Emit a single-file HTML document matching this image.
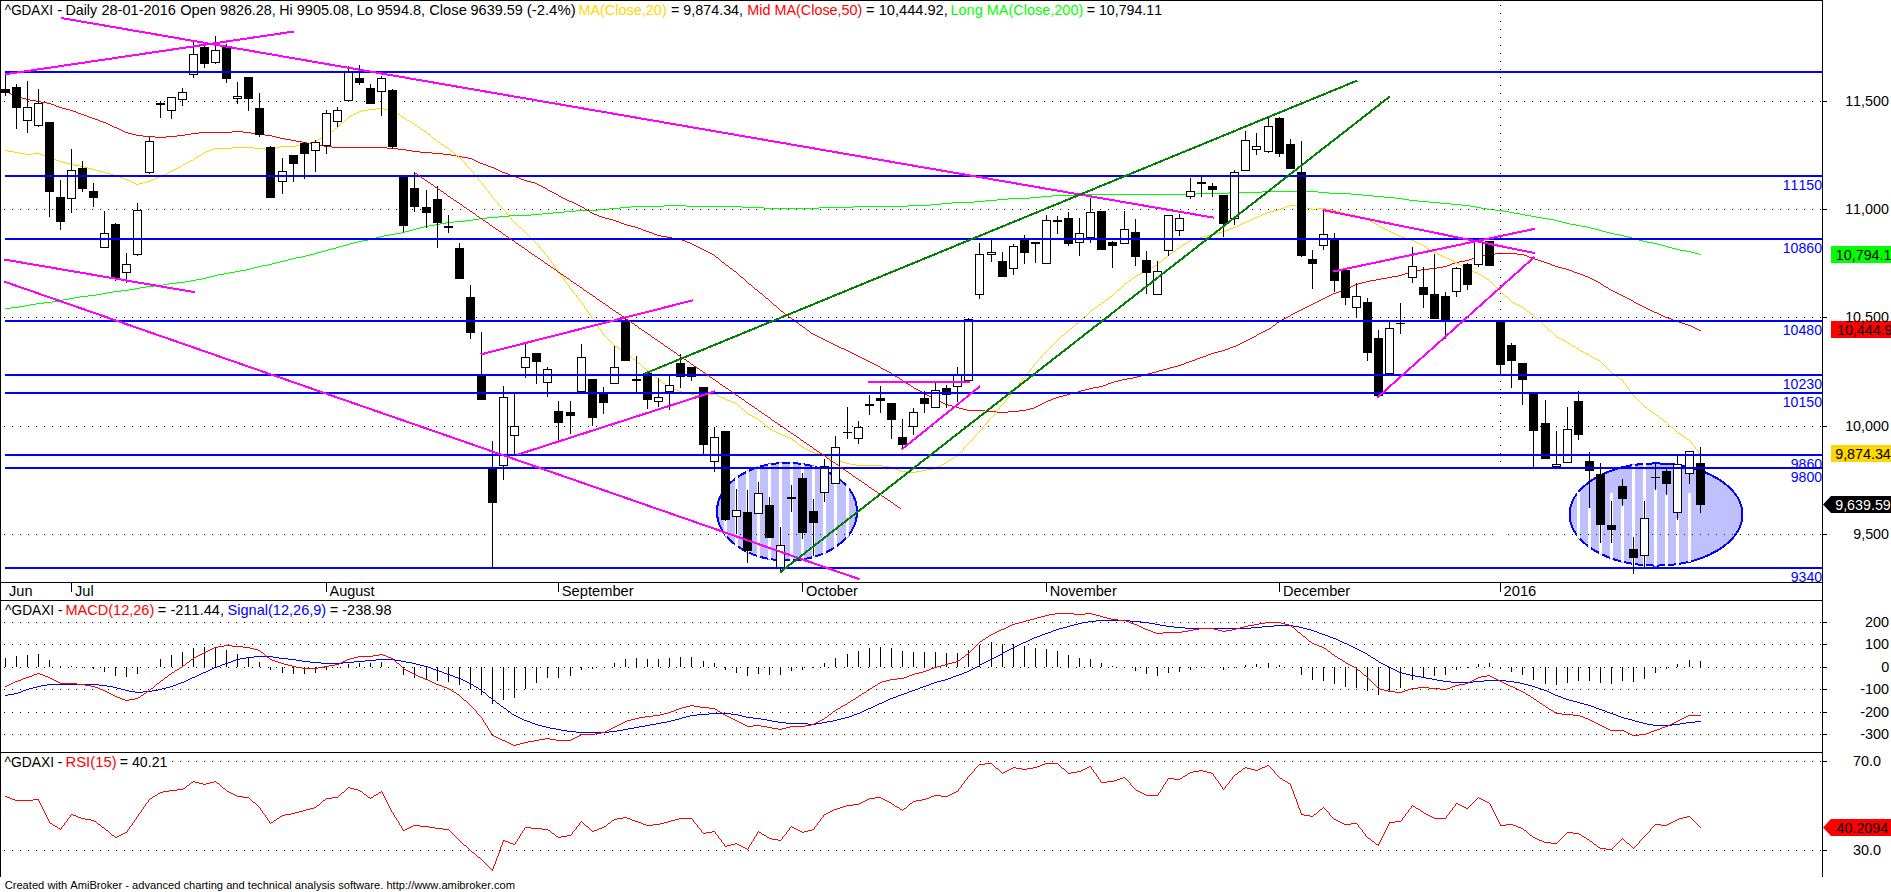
<!DOCTYPE html><html><head><meta charset="utf-8"><title>^GDAXI chart</title><style>html,body{margin:0;padding:0;background:#fff;}svg{display:block;}text{font-kerning:none;}</style></head><body><svg width="1891" height="892" viewBox="0 0 1891 892">
<defs>
<pattern id="hd" x="4" y="0" width="8" height="1" patternUnits="userSpaceOnUse"><rect width="1" height="1" fill="#000"/></pattern>
<pattern id="vd" x="0" y="5" width="1" height="8" patternUnits="userSpaceOnUse"><rect width="1" height="1" fill="#000"/></pattern>
<clipPath id="main"><rect x="1" y="1" width="1821" height="581"/></clipPath>
<clipPath id="mp"><rect x="1" y="601" width="1821" height="150"/></clipPath>
<clipPath id="rp"><rect x="1" y="753" width="1821" height="123"/></clipPath>
<clipPath id="e1"><ellipse cx="787" cy="511.7" rx="71" ry="49.8"/></clipPath>
<clipPath id="e2"><ellipse cx="1656" cy="514.5" rx="87.4" ry="52.1"/></clipPath>
</defs>
<rect width="1891" height="892" fill="#fff"/>
<g clip-path="url(#main)" shape-rendering="crispEdges">
<path d="M5 308h6v1h-6zM11 307h5v1h-5zM16 307h3v1h-3zM19 306h6v1h-6zM25 305h2v1h-2zM27 305h3v1h-3zM30 304h6v1h-6zM36 303h2v1h-2zM38 303h6v1h-6zM44 302h5v1h-5zM49 302h3v1h-3zM52 301h6v1h-6zM58 300h2v1h-2zM60 300h3v1h-3zM63 299h6v1h-6zM69 298h2v1h-2zM71 298h3v1h-3zM74 297h6v1h-6zM80 296h2v1h-2zM82 296h6v1h-6zM88 295h5v1h-5zM93 295h3v1h-3zM96 294h6v1h-6zM102 293h2v1h-2zM104 293h3v1h-3zM107 292h6v1h-6zM113 291h2v1h-2zM115 291h6v1h-6zM121 290h5v1h-5zM126 290h3v1h-3zM129 289h6v1h-6zM135 288h2v1h-2zM137 288h3v1h-3zM140 287h6v1h-6zM146 286h3v1h-3zM149 286h6v1h-6zM155 285h5v1h-5zM160 285h3v1h-3zM163 284h6v1h-6zM169 283h2v1h-2zM171 283h6v1h-6zM177 282h5v1h-5zM182 282h3v1h-3zM185 281h6v1h-6zM191 280h2v1h-2zM193 280h3v1h-3zM196 279h6v1h-6zM202 278h2v1h-2zM204 278h2v1h-2zM206 277h4v1h-4zM210 276h4v1h-4zM214 275h1v1h-1zM215 275h3v1h-3zM218 274h6v1h-6zM224 273h2v1h-2zM226 273h3v1h-3zM229 272h6v1h-6zM235 271h2v1h-2zM237 271h3v1h-3zM240 270h6v1h-6zM246 269h2v1h-2zM248 269h2v1h-2zM250 268h4v1h-4zM254 267h4v1h-4zM258 266h1v1h-1zM259 266h3v1h-3zM262 265h6v1h-6zM268 264h2v1h-2zM270 264h2v1h-2zM272 263h4v1h-4zM276 262h4v1h-4zM280 261h2v1h-2zM282 261h2v1h-2zM284 260h4v1h-4zM288 259h4v1h-4zM292 258h1v1h-1zM293 258h3v1h-3zM296 257h6v1h-6zM302 256h2v1h-2zM304 256h2v1h-2zM306 255h4v1h-4zM310 254h4v1h-4zM314 253h1v1h-1zM315 253h2v1h-2zM317 252h4v1h-4zM321 251h4v1h-4zM325 250h1v1h-1zM326 250h2v1h-2zM328 249h4v1h-4zM332 248h4v1h-4zM336 247h1v1h-1zM337 247h2v1h-2zM339 246h4v1h-4zM343 245h4v1h-4zM347 244h1v1h-1zM348 244h2v1h-2zM350 243h4v1h-4zM354 242h4v1h-4zM358 241h1v1h-1zM359 241h3v1h-3zM362 240h6v1h-6zM368 239h2v1h-2zM370 239h2v1h-2zM372 238h4v1h-4zM376 237h4v1h-4zM380 236h1v1h-1zM381 236h3v1h-3zM384 235h6v1h-6zM390 234h2v1h-2zM392 234h3v1h-3zM395 233h6v1h-6zM401 232h2v1h-2zM403 232h2v1h-2zM405 231h4v1h-4zM409 230h4v1h-4zM413 229h1v1h-1zM414 229h2v1h-2zM416 228h4v1h-4zM420 227h4v1h-4zM424 226h2v1h-2zM426 226h3v1h-3zM429 225h6v1h-6zM435 224h2v1h-2zM437 224h3v1h-3zM440 223h6v1h-6zM446 222h2v1h-2zM448 222h6v1h-6zM454 221h5v1h-5zM459 221h6v1h-6zM465 220h5v1h-5zM470 220h3v1h-3zM473 219h6v1h-6zM479 218h2v1h-2zM481 218h6v1h-6zM487 217h5v1h-5zM492 217h6v1h-6zM498 216h5v1h-5zM503 216h6v1h-6zM509 215h5v1h-5zM514 215h11v1h-11zM525 215h6v1h-6zM531 214h5v1h-5zM536 214h6v1h-6zM542 213h5v1h-5zM547 213h6v1h-6zM553 212h5v1h-5zM558 212h6v1h-6zM564 211h6v1h-6zM570 211h6v1h-6zM576 210h5v1h-5zM581 210h11v1h-11zM592 210h6v1h-6zM598 209h5v1h-5zM603 209h6v1h-6zM609 208h5v1h-5zM614 208h6v1h-6zM620 207h5v1h-5zM625 207h6v1h-6zM631 206h5v1h-5zM636 206h11v1h-11zM647 206h11v1h-11zM658 206h6v1h-6zM664 205h5v1h-5zM669 205h11v1h-11zM680 205h6v1h-6zM686 206h5v1h-5zM691 206h12v1h-12zM703 206h11v1h-11zM714 206h11v1h-11zM725 206h11v1h-11zM736 206h6v1h-6zM742 207h5v1h-5zM747 207h11v1h-11zM758 207h6v1h-6zM764 208h5v1h-5zM769 208h11v1h-11zM780 208h11v1h-11zM791 208h11v1h-11zM802 208h11v1h-11zM813 208h6v1h-6zM819 207h5v1h-5zM824 207h11v1h-11zM835 207h12v1h-12zM847 207h6v1h-6zM853 206h5v1h-5zM858 206h11v1h-11zM869 206h11v1h-11zM880 206h11v1h-11zM891 206h11v1h-11zM902 206h6v1h-6zM908 205h5v1h-5zM913 205h11v1h-11zM924 205h6v1h-6zM930 204h5v1h-5zM935 204h6v1h-6zM941 203h5v1h-5zM946 203h6v1h-6zM952 202h5v1h-5zM957 202h11v1h-11zM968 202h6v1h-6zM974 201h5v1h-5zM979 201h6v1h-6zM985 200h6v1h-6zM991 200h6v1h-6zM997 199h5v1h-5zM1002 199h6v1h-6zM1008 198h5v1h-5zM1013 198h11v1h-11zM1024 198h6v1h-6zM1030 197h5v1h-5zM1035 197h6v1h-6zM1041 196h5v1h-5zM1046 196h6v1h-6zM1052 195h5v1h-5zM1057 195h11v1h-11zM1068 195h11v1h-11zM1079 195h6v1h-6zM1085 194h5v1h-5zM1090 194h11v1h-11zM1101 194h11v1h-11zM1112 194h12v1h-12zM1124 194h11v1h-11zM1135 194h11v1h-11zM1146 194h11v1h-11zM1157 194h11v1h-11zM1168 194h11v1h-11zM1179 194h11v1h-11zM1190 194h6v1h-6zM1196 193h5v1h-5zM1201 193h11v1h-11zM1212 193h11v1h-11zM1223 193h6v1h-6zM1229 192h5v1h-5zM1234 192h11v1h-11zM1245 192h11v1h-11zM1256 192h6v1h-6zM1262 191h6v1h-6zM1268 191h11v1h-11zM1279 191h11v1h-11zM1290 191h11v1h-11zM1301 191h11v1h-11zM1312 191h6v1h-6zM1318 192h5v1h-5zM1323 192h6v1h-6zM1329 193h5v1h-5zM1334 193h11v1h-11zM1345 193h6v1h-6zM1351 194h5v1h-5zM1356 194h6v1h-6zM1362 195h5v1h-5zM1367 195h6v1h-6zM1373 196h5v1h-5zM1378 196h6v1h-6zM1384 197h5v1h-5zM1389 197h6v1h-6zM1395 198h5v1h-5zM1400 198h3v1h-3zM1403 199h6v1h-6zM1409 200h3v1h-3zM1412 200h6v1h-6zM1418 201h5v1h-5zM1423 201h6v1h-6zM1429 202h5v1h-5zM1434 202h6v1h-6zM1440 203h5v1h-5zM1445 203h6v1h-6zM1451 204h5v1h-5zM1456 204h6v1h-6zM1462 205h5v1h-5zM1467 205h3v1h-3zM1470 206h6v1h-6zM1476 207h2v1h-2zM1478 207h3v1h-3zM1481 208h6v1h-6zM1487 209h2v1h-2zM1489 209h6v1h-6zM1495 210h5v1h-5zM1500 210h3v1h-3zM1503 211h6v1h-6zM1509 212h2v1h-2zM1511 212h3v1h-3zM1514 213h6v1h-6zM1520 214h2v1h-2zM1522 214h3v1h-3zM1525 215h6v1h-6zM1531 216h2v1h-2zM1533 216h3v1h-3zM1536 217h6v1h-6zM1542 218h3v1h-3zM1545 218h3v1h-3zM1548 219h6v1h-6zM1554 220h2v1h-2zM1556 220h2v1h-2zM1558 221h4v1h-4zM1562 222h4v1h-4zM1566 223h1v1h-1zM1567 223h3v1h-3zM1570 224h6v1h-6zM1576 225h2v1h-2zM1578 225h3v1h-3zM1581 226h6v1h-6zM1587 227h2v1h-2zM1589 227h2v1h-2zM1591 228h4v1h-4zM1595 229h4v1h-4zM1599 230h1v1h-1zM1600 230h2v1h-2zM1602 231h4v1h-4zM1606 232h4v1h-4zM1610 233h1v1h-1zM1611 233h3v1h-3zM1614 234h6v1h-6zM1620 235h2v1h-2zM1622 235h2v1h-2zM1624 236h4v1h-4zM1628 237h4v1h-4zM1632 238h1v1h-1zM1633 238h2v1h-2zM1635 239h4v1h-4zM1639 240h4v1h-4zM1643 241h1v1h-1zM1644 241h3v1h-3zM1647 242h6v1h-6zM1653 243h2v1h-2zM1655 243h2v1h-2zM1657 244h4v1h-4zM1661 245h4v1h-4zM1665 246h1v1h-1zM1666 246h2v1h-2zM1668 247h4v1h-4zM1672 248h4v1h-4zM1676 249h1v1h-1zM1677 249h3v1h-3zM1680 250h6v1h-6zM1686 251h3v1h-3zM1689 251h2v1h-2zM1691 252h4v1h-4zM1695 253h4v1h-4zM1699 254h2v1h-2z" fill="#00ff00"/>
<path d="M5 91h2v1h-2zM7 92h2v1h-2zM9 93h2v1h-2zM11 94h2v1h-2zM13 95h2v1h-2zM15 96h1v1h-1zM16 96h2v1h-2zM18 97h4v1h-4zM22 98h4v1h-4zM26 99h1v1h-1zM27 99h3v1h-3zM30 100h6v1h-6zM36 101h2v1h-2zM38 101h3v1h-3zM41 102h6v1h-6zM47 103h2v1h-2zM49 103h2v1h-2zM51 104h3v1h-3zM54 105h2v1h-2zM56 106h3v1h-3zM59 107h1v1h-1zM60 107h2v1h-2zM62 108h4v1h-4zM66 109h4v1h-4zM70 110h1v1h-1zM71 110h2v1h-2zM73 111h3v1h-3zM76 112h2v1h-2zM78 113h3v1h-3zM81 114h1v1h-1zM82 114h2v1h-2zM84 115h3v1h-3zM87 116h2v1h-2zM89 117h3v1h-3zM92 118h1v1h-1zM93 118h2v1h-2zM95 119h3v1h-3zM98 120h2v1h-2zM100 121h3v1h-3zM103 122h1v1h-1zM104 122h2v1h-2zM106 123h2v1h-2zM108 124h2v1h-2zM110 125h2v1h-2zM112 126h2v1h-2zM114 127h1v1h-1zM115 127h2v1h-2zM117 128h2v1h-2zM119 129h2v1h-2zM121 130h2v1h-2zM123 131h2v1h-2zM125 132h1v1h-1zM126 132h2v1h-2zM128 133h4v1h-4zM132 134h4v1h-4zM136 135h1v1h-1zM137 135h6v1h-6zM143 136h6v1h-6zM149 136h6v1h-6zM155 137h5v1h-5zM160 137h6v1h-6zM166 136h5v1h-5zM171 136h6v1h-6zM177 135h5v1h-5zM182 135h3v1h-3zM185 134h6v1h-6zM191 133h2v1h-2zM193 133h6v1h-6zM199 132h5v1h-5zM204 132h11v1h-11zM215 132h11v1h-11zM226 132h6v1h-6zM232 131h5v1h-5zM237 131h6v1h-6zM243 132h5v1h-5zM248 132h3v1h-3zM251 133h6v1h-6zM257 134h2v1h-2zM259 134h6v1h-6zM265 135h5v1h-5zM270 135h2v1h-2zM272 136h4v1h-4zM276 137h4v1h-4zM280 138h2v1h-2zM282 138h3v1h-3zM285 139h6v1h-6zM291 140h2v1h-2zM293 140h3v1h-3zM296 141h6v1h-6zM302 142h2v1h-2zM304 142h3v1h-3zM307 143h6v1h-6zM313 144h2v1h-2zM315 144h3v1h-3zM318 145h6v1h-6zM324 146h2v1h-2zM326 146h6v1h-6zM332 147h5v1h-5zM337 147h11v1h-11zM348 147h11v1h-11zM359 147h11v1h-11zM370 147h11v1h-11zM381 147h6v1h-6zM387 148h5v1h-5zM392 148h6v1h-6zM398 149h5v1h-5zM403 149h3v1h-3zM406 150h6v1h-6zM412 151h2v1h-2zM414 151h6v1h-6zM420 152h6v1h-6zM426 152h6v1h-6zM432 153h5v1h-5zM437 153h6v1h-6zM443 154h5v1h-5zM448 154h3v1h-3zM451 155h6v1h-6zM457 156h2v1h-2zM459 156h3v1h-3zM462 157h6v1h-6zM468 158h2v1h-2zM470 158h2v1h-2zM472 159h2v1h-2zM474 160h2v1h-2zM476 161h2v1h-2zM478 162h2v1h-2zM480 163h1v1h-1zM481 163h2v1h-2zM483 164h3v1h-3zM486 165h2v1h-2zM488 166h3v1h-3zM491 167h1v1h-1zM492 167h2v1h-2zM494 168h2v1h-2zM496 169h2v1h-2zM498 170h2v1h-2zM500 171h2v1h-2zM502 172h1v1h-1zM503 172h2v1h-2zM505 173h3v1h-3zM508 174h2v1h-2zM510 175h3v1h-3zM513 176h1v1h-1zM514 176h2v1h-2zM516 177h3v1h-3zM519 178h2v1h-2zM521 179h3v1h-3zM524 180h1v1h-1zM525 180h2v1h-2zM527 181h4v1h-4zM531 182h4v1h-4zM535 183h1v1h-1zM536 183h1v1h-1zM537 184h2v1h-2zM539 185h2v1h-2zM541 186h2v1h-2zM543 187h2v1h-2zM545 188h2v1h-2zM547 189h1v1h-1zM548 190h2v1h-2zM550 191h2v1h-2zM552 192h2v1h-2zM554 193h2v1h-2zM556 194h2v1h-2zM558 195h1v1h-1zM559 196h2v1h-2zM561 197h2v1h-2zM563 198h2v1h-2zM565 199h2v1h-2zM567 200h2v1h-2zM569 201h1v1h-1zM570 201h2v1h-2zM572 202h2v1h-2zM574 203h2v1h-2zM576 204h2v1h-2zM578 205h2v1h-2zM580 206h1v1h-1zM581 206h1v1h-1zM582 207h2v1h-2zM584 208h1v1h-1zM585 209h2v1h-2zM587 210h2v1h-2zM589 211h1v1h-1zM590 212h2v1h-2zM592 213h2v1h-2zM594 214h3v1h-3zM597 215h2v1h-2zM599 216h3v1h-3zM602 217h1v1h-1zM603 217h2v1h-2zM605 218h4v1h-4zM609 219h4v1h-4zM613 220h1v1h-1zM614 220h2v1h-2zM616 221h3v1h-3zM619 222h2v1h-2zM621 223h3v1h-3zM624 224h1v1h-1zM625 224h2v1h-2zM627 225h4v1h-4zM631 226h4v1h-4zM635 227h1v1h-1zM636 227h2v1h-2zM638 228h3v1h-3zM641 229h2v1h-2zM643 230h3v1h-3zM646 231h1v1h-1zM647 231h2v1h-2zM649 232h3v1h-3zM652 233h2v1h-2zM654 234h3v1h-3zM657 235h1v1h-1zM658 235h3v1h-3zM661 236h6v1h-6zM667 237h2v1h-2zM669 237h3v1h-3zM672 238h6v1h-6zM678 239h2v1h-2zM680 239h2v1h-2zM682 240h3v1h-3zM685 241h2v1h-2zM687 242h3v1h-3zM690 243h1v1h-1zM691 243h1v1h-1zM692 244h2v1h-2zM694 245h2v1h-2zM696 246h2v1h-2zM698 247h2v1h-2zM700 248h2v1h-2zM702 249h1v1h-1zM703 249h1v1h-1zM704 250h2v1h-2zM706 251h2v1h-2zM708 252h2v1h-2zM710 253h2v1h-2zM712 254h2v1h-2zM714 255h1v1h-1zM715 256h1v1h-1zM716 257h2v1h-2zM718 258h1v1h-1zM719 259h1v1h-1zM720 260h1v1h-1zM721 261h1v1h-1zM722 262h2v1h-2zM724 263h1v1h-1zM725 264h1v1h-1zM726 265h2v1h-2zM728 266h1v1h-1zM729 267h1v1h-1zM730 268h2v1h-2zM732 269h1v1h-1zM733 270h1v1h-1zM734 271h2v1h-2zM736 272h1v1h-1zM737 273h1v1h-1zM738 274h1v1h-1zM739 275h1v1h-1zM740 276h1v1h-1zM741 277h2v1h-2zM743 278h1v1h-1zM744 279h1v1h-1zM745 280h1v1h-1zM746 281h1v1h-1zM747 282h1v1h-1zM748 283h1v1h-1zM749 284h2v1h-2zM751 285h1v1h-1zM752 286h1v1h-1zM753 287h1v1h-1zM754 288h1v1h-1zM755 289h2v1h-2zM757 290h1v1h-1zM758 291h1v1h-1zM759 292h1v1h-1zM760 293h2v1h-2zM762 294h1v1h-1zM763 295h1v1h-1zM764 296h1v1h-1zM765 297h1v1h-1zM766 298h2v1h-2zM768 299h1v1h-1zM769 300h1v1h-1zM770 301h1v1h-1zM771 302h1v1h-1zM772 303h1v1h-1zM773 304h1v1h-1zM774 305h2v1h-2zM776 306h1v1h-1zM777 307h1v1h-1zM778 308h1v1h-1zM779 309h1v1h-1zM780 310h1v1h-1zM781 311h2v1h-2zM783 312h1v1h-1zM784 313h1v1h-1zM785 314h2v1h-2zM787 315h1v1h-1zM788 316h1v1h-1zM789 317h2v1h-2zM791 318h1v1h-1zM792 319h2v1h-2zM794 320h1v1h-1zM795 321h1v1h-1zM796 322h2v1h-2zM798 323h1v1h-1zM799 324h1v1h-1zM800 325h2v1h-2zM802 326h1v1h-1zM803 327h2v1h-2zM805 328h1v1h-1zM806 329h1v1h-1zM807 330h2v1h-2zM809 331h1v1h-1zM810 332h1v1h-1zM811 333h2v1h-2zM813 334h2v1h-2zM815 335h2v1h-2zM817 336h2v1h-2zM819 337h2v1h-2zM821 338h2v1h-2zM823 339h1v1h-1zM824 339h1v1h-1zM825 340h2v1h-2zM827 341h2v1h-2zM829 342h2v1h-2zM831 343h2v1h-2zM833 344h2v1h-2zM835 345h2v1h-2zM837 346h2v1h-2zM839 347h2v1h-2zM841 348h3v1h-3zM844 349h2v1h-2zM846 350h1v1h-1zM847 350h1v1h-1zM848 351h2v1h-2zM850 352h2v1h-2zM852 353h2v1h-2zM854 354h2v1h-2zM856 355h2v1h-2zM858 356h2v1h-2zM860 357h2v1h-2zM862 358h2v1h-2zM864 359h2v1h-2zM866 360h2v1h-2zM868 361h1v1h-1zM869 361h1v1h-1zM870 362h2v1h-2zM872 363h2v1h-2zM874 364h2v1h-2zM876 365h2v1h-2zM878 366h2v1h-2zM880 367h1v1h-1zM881 368h2v1h-2zM883 369h2v1h-2zM885 370h2v1h-2zM887 371h2v1h-2zM889 372h2v1h-2zM891 373h1v1h-1zM892 374h2v1h-2zM894 375h1v1h-1zM895 376h2v1h-2zM897 377h2v1h-2zM899 378h1v1h-1zM900 379h2v1h-2zM902 380h1v1h-1zM903 381h2v1h-2zM905 382h1v1h-1zM906 383h2v1h-2zM908 384h2v1h-2zM910 385h1v1h-1zM911 386h2v1h-2zM913 387h1v1h-1zM914 388h2v1h-2zM916 389h2v1h-2zM918 390h2v1h-2zM920 391h2v1h-2zM922 392h2v1h-2zM924 393h1v1h-1zM925 394h2v1h-2zM927 395h2v1h-2zM929 396h2v1h-2zM931 397h2v1h-2zM933 398h2v1h-2zM935 399h2v1h-2zM937 400h2v1h-2zM939 401h2v1h-2zM941 402h2v1h-2zM943 403h2v1h-2zM945 404h1v1h-1zM946 404h2v1h-2zM948 405h4v1h-4zM952 406h4v1h-4zM956 407h1v1h-1zM957 407h2v1h-2zM959 408h4v1h-4zM963 409h4v1h-4zM967 410h1v1h-1zM968 410h11v1h-11zM979 410h6v1h-6zM985 411h6v1h-6zM991 411h6v1h-6zM997 412h5v1h-5zM1002 412h6v1h-6zM1008 411h5v1h-5zM1013 411h6v1h-6zM1019 410h5v1h-5zM1024 410h2v1h-2zM1026 409h4v1h-4zM1030 408h4v1h-4zM1034 407h1v1h-1zM1035 407h1v1h-1zM1036 406h2v1h-2zM1038 405h2v1h-2zM1040 404h2v1h-2zM1042 403h2v1h-2zM1044 402h2v1h-2zM1046 401h2v1h-2zM1048 400h3v1h-3zM1051 399h2v1h-2zM1053 398h3v1h-3zM1056 397h1v1h-1zM1057 397h2v1h-2zM1059 396h4v1h-4zM1063 395h4v1h-4zM1067 394h1v1h-1zM1068 394h2v1h-2zM1070 393h4v1h-4zM1074 392h4v1h-4zM1078 391h1v1h-1zM1079 391h2v1h-2zM1081 390h4v1h-4zM1085 389h4v1h-4zM1089 388h1v1h-1zM1090 388h3v1h-3zM1093 387h6v1h-6zM1099 386h2v1h-2zM1101 386h2v1h-2zM1103 385h3v1h-3zM1106 384h2v1h-2zM1108 383h3v1h-3zM1111 382h1v1h-1zM1112 382h2v1h-2zM1114 381h4v1h-4zM1118 380h4v1h-4zM1122 379h2v1h-2zM1124 379h3v1h-3zM1127 378h6v1h-6zM1133 377h2v1h-2zM1135 377h2v1h-2zM1137 376h4v1h-4zM1141 375h4v1h-4zM1145 374h1v1h-1zM1146 374h2v1h-2zM1148 373h4v1h-4zM1152 372h4v1h-4zM1156 371h1v1h-1zM1157 371h2v1h-2zM1159 370h4v1h-4zM1163 369h4v1h-4zM1167 368h1v1h-1zM1168 368h2v1h-2zM1170 367h4v1h-4zM1174 366h4v1h-4zM1178 365h1v1h-1zM1179 365h2v1h-2zM1181 364h3v1h-3zM1184 363h2v1h-2zM1186 362h3v1h-3zM1189 361h1v1h-1zM1190 361h2v1h-2zM1192 360h3v1h-3zM1195 359h2v1h-2zM1197 358h3v1h-3zM1200 357h1v1h-1zM1201 357h2v1h-2zM1203 356h3v1h-3zM1206 355h2v1h-2zM1208 354h3v1h-3zM1211 353h1v1h-1zM1212 353h2v1h-2zM1214 352h4v1h-4zM1218 351h4v1h-4zM1222 350h1v1h-1zM1223 350h2v1h-2zM1225 349h3v1h-3zM1228 348h2v1h-2zM1230 347h3v1h-3zM1233 346h1v1h-1zM1234 346h2v1h-2zM1236 345h2v1h-2zM1238 344h2v1h-2zM1240 343h2v1h-2zM1242 342h2v1h-2zM1244 341h1v1h-1zM1245 341h1v1h-1zM1246 340h2v1h-2zM1248 339h2v1h-2zM1250 338h2v1h-2zM1252 337h2v1h-2zM1254 336h2v1h-2zM1256 335h1v1h-1zM1257 334h2v1h-2zM1259 333h2v1h-2zM1261 332h2v1h-2zM1263 331h2v1h-2zM1265 330h2v1h-2zM1267 329h1v1h-1zM1268 329h1v1h-1zM1269 328h2v1h-2zM1271 327h1v1h-1zM1272 326h1v1h-1zM1273 325h2v1h-2zM1275 324h1v1h-1zM1276 323h1v1h-1zM1277 322h2v1h-2zM1279 321h1v1h-1zM1280 320h2v1h-2zM1282 319h2v1h-2zM1284 318h2v1h-2zM1286 317h2v1h-2zM1288 316h2v1h-2zM1290 315h1v1h-1zM1291 314h2v1h-2zM1293 313h2v1h-2zM1295 312h2v1h-2zM1297 311h2v1h-2zM1299 310h2v1h-2zM1301 309h2v1h-2zM1303 308h2v1h-2zM1305 307h2v1h-2zM1307 306h2v1h-2zM1309 305h2v1h-2zM1311 304h1v1h-1zM1312 304h1v1h-1zM1313 303h2v1h-2zM1315 302h2v1h-2zM1317 301h2v1h-2zM1319 300h2v1h-2zM1321 299h2v1h-2zM1323 298h2v1h-2zM1325 297h2v1h-2zM1327 296h2v1h-2zM1329 295h2v1h-2zM1331 294h2v1h-2zM1333 293h1v1h-1zM1334 293h2v1h-2zM1336 292h3v1h-3zM1339 291h2v1h-2zM1341 290h3v1h-3zM1344 289h1v1h-1zM1345 289h2v1h-2zM1347 288h2v1h-2zM1349 287h2v1h-2zM1351 286h2v1h-2zM1353 285h2v1h-2zM1355 284h1v1h-1zM1356 284h2v1h-2zM1358 283h4v1h-4zM1362 282h4v1h-4zM1366 281h1v1h-1zM1367 281h3v1h-3zM1370 280h6v1h-6zM1376 279h2v1h-2zM1378 279h3v1h-3zM1381 278h6v1h-6zM1387 277h2v1h-2zM1389 277h3v1h-3zM1392 276h6v1h-6zM1398 275h2v1h-2zM1400 275h2v1h-2zM1402 274h3v1h-3zM1405 273h3v1h-3zM1408 272h3v1h-3zM1411 271h1v1h-1zM1412 271h3v1h-3zM1415 270h6v1h-6zM1421 269h2v1h-2zM1423 269h6v1h-6zM1429 268h5v1h-5zM1434 268h3v1h-3zM1437 267h6v1h-6zM1443 266h2v1h-2zM1445 266h2v1h-2zM1447 265h3v1h-3zM1450 264h2v1h-2zM1452 263h3v1h-3zM1455 262h1v1h-1zM1456 262h3v1h-3zM1459 261h6v1h-6zM1465 260h2v1h-2zM1467 260h2v1h-2zM1469 259h3v1h-3zM1472 258h2v1h-2zM1474 257h3v1h-3zM1477 256h1v1h-1zM1478 256h3v1h-3zM1481 255h6v1h-6zM1487 254h2v1h-2zM1489 254h6v1h-6zM1495 253h5v1h-5zM1500 253h11v1h-11zM1511 253h6v1h-6zM1517 254h5v1h-5zM1522 254h2v1h-2zM1524 255h3v1h-3zM1527 256h2v1h-2zM1529 257h3v1h-3zM1532 258h1v1h-1zM1533 258h2v1h-2zM1535 259h3v1h-3zM1538 260h3v1h-3zM1541 261h3v1h-3zM1544 262h1v1h-1zM1545 262h2v1h-2zM1547 263h3v1h-3zM1550 264h2v1h-2zM1552 265h3v1h-3zM1555 266h1v1h-1zM1556 266h2v1h-2zM1558 267h4v1h-4zM1562 268h4v1h-4zM1566 269h1v1h-1zM1567 269h2v1h-2zM1569 270h3v1h-3zM1572 271h2v1h-2zM1574 272h3v1h-3zM1577 273h1v1h-1zM1578 273h2v1h-2zM1580 274h3v1h-3zM1583 275h2v1h-2zM1585 276h3v1h-3zM1588 277h1v1h-1zM1589 277h1v1h-1zM1590 278h2v1h-2zM1592 279h2v1h-2zM1594 280h2v1h-2zM1596 281h2v1h-2zM1598 282h2v1h-2zM1600 283h1v1h-1zM1601 284h2v1h-2zM1603 285h1v1h-1zM1604 286h2v1h-2zM1606 287h2v1h-2zM1608 288h1v1h-1zM1609 289h2v1h-2zM1611 290h2v1h-2zM1613 291h2v1h-2zM1615 292h2v1h-2zM1617 293h2v1h-2zM1619 294h2v1h-2zM1621 295h1v1h-1zM1622 295h1v1h-1zM1623 296h2v1h-2zM1625 297h2v1h-2zM1627 298h2v1h-2zM1629 299h2v1h-2zM1631 300h2v1h-2zM1633 301h1v1h-1zM1634 302h2v1h-2zM1636 303h2v1h-2zM1638 304h2v1h-2zM1640 305h2v1h-2zM1642 306h2v1h-2zM1644 307h2v1h-2zM1646 308h2v1h-2zM1648 309h2v1h-2zM1650 310h2v1h-2zM1652 311h2v1h-2zM1654 312h1v1h-1zM1655 312h2v1h-2zM1657 313h2v1h-2zM1659 314h2v1h-2zM1661 315h2v1h-2zM1663 316h2v1h-2zM1665 317h1v1h-1zM1666 317h2v1h-2zM1668 318h3v1h-3zM1671 319h2v1h-2zM1673 320h3v1h-3zM1676 321h1v1h-1zM1677 321h2v1h-2zM1679 322h3v1h-3zM1682 323h3v1h-3zM1685 324h3v1h-3zM1688 325h1v1h-1zM1689 325h2v1h-2zM1691 326h2v1h-2zM1693 327h2v1h-2zM1695 328h2v1h-2zM1697 329h2v1h-2zM1699 330h2v1h-2z" fill="#ff0000"/>
<path d="M5 150h3v1h-3zM8 151h6v1h-6zM14 152h2v1h-2zM16 152h3v1h-3zM19 153h6v1h-6zM25 154h2v1h-2zM27 154h6v1h-6zM33 153h5v1h-5zM38 153h2v1h-2zM40 154h3v1h-3zM43 155h2v1h-2zM45 156h3v1h-3zM48 157h1v1h-1zM49 157h2v1h-2zM51 158h3v1h-3zM54 159h2v1h-2zM56 160h3v1h-3zM59 161h1v1h-1zM60 161h2v1h-2zM62 162h4v1h-4zM66 163h4v1h-4zM70 164h1v1h-1zM71 164h3v1h-3zM74 165h6v1h-6zM80 166h2v1h-2zM82 166h2v1h-2zM84 167h4v1h-4zM88 168h4v1h-4zM92 169h1v1h-1zM93 169h2v1h-2zM95 170h4v1h-4zM99 171h4v1h-4zM103 172h1v1h-1zM104 172h2v1h-2zM106 173h4v1h-4zM110 174h4v1h-4zM114 175h1v1h-1zM115 175h2v1h-2zM117 176h3v1h-3zM120 177h2v1h-2zM122 178h3v1h-3zM125 179h1v1h-1zM126 179h2v1h-2zM128 180h2v1h-2zM130 181h2v1h-2zM132 182h2v1h-2zM134 183h2v1h-2zM136 184h1v1h-1zM137 184h2v1h-2zM139 183h4v1h-4zM143 182h4v1h-4zM147 181h2v1h-2zM149 181h2v1h-2zM151 180h2v1h-2zM153 179h2v1h-2zM155 178h2v1h-2zM157 177h2v1h-2zM159 176h1v1h-1zM160 176h2v1h-2zM162 175h2v1h-2zM164 174h2v1h-2zM166 173h2v1h-2zM168 172h2v1h-2zM170 171h1v1h-1zM171 171h1v1h-1zM172 170h2v1h-2zM174 169h2v1h-2zM176 168h2v1h-2zM178 167h2v1h-2zM180 166h2v1h-2zM182 165h1v1h-1zM183 164h2v1h-2zM185 163h2v1h-2zM187 162h2v1h-2zM189 161h2v1h-2zM191 160h2v1h-2zM193 159h1v1h-1zM194 158h2v1h-2zM196 157h1v1h-1zM197 156h2v1h-2zM199 155h2v1h-2zM201 154h1v1h-1zM202 153h2v1h-2zM204 152h2v1h-2zM206 151h3v1h-3zM209 150h2v1h-2zM211 149h3v1h-3zM214 148h1v1h-1zM215 148h11v1h-11zM226 148h6v1h-6zM232 147h5v1h-5zM237 147h11v1h-11zM248 147h6v1h-6zM254 148h5v1h-5zM259 148h6v1h-6zM265 149h5v1h-5zM270 149h2v1h-2zM272 148h4v1h-4zM276 147h4v1h-4zM280 146h2v1h-2zM282 146h11v1h-11zM293 146h3v1h-3zM296 145h6v1h-6zM302 144h2v1h-2zM304 144h2v1h-2zM306 143h4v1h-4zM310 142h4v1h-4zM314 141h1v1h-1zM315 141h1v1h-1zM316 140h2v1h-2zM318 139h2v1h-2zM320 138h2v1h-2zM322 137h2v1h-2zM324 136h2v1h-2zM326 135h1v1h-1zM327 134h2v1h-2zM329 133h1v1h-1zM330 132h1v1h-1zM331 131h2v1h-2zM333 130h1v1h-1zM334 129h1v1h-1zM335 128h2v1h-2zM337 127h1v1h-1zM338 126h1v1h-1zM339 125h1v1h-1zM340 124h1v1h-1zM341 123h1v1h-1zM342 122h2v1h-2zM344 121h1v1h-1zM345 120h1v1h-1zM346 119h1v1h-1zM347 118h1v1h-1zM348 117h1v1h-1zM349 116h2v1h-2zM351 115h2v1h-2zM353 114h2v1h-2zM355 113h2v1h-2zM357 112h2v1h-2zM359 111h3v1h-3zM362 110h6v1h-6zM368 109h2v1h-2zM370 109h6v1h-6zM376 108h5v1h-5zM381 108h3v1h-3zM384 109h6v1h-6zM390 110h2v1h-2zM392 110h1v1h-1zM393 111h2v1h-2zM395 112h1v1h-1zM396 113h2v1h-2zM398 114h2v1h-2zM400 115h1v1h-1zM401 116h2v1h-2zM403 117h1v1h-1zM404 118h2v1h-2zM406 119h1v1h-1zM407 120h2v1h-2zM409 121h2v1h-2zM411 122h1v1h-1zM412 123h2v1h-2zM414 124h1v1h-1zM415 125h2v1h-2zM417 126h1v1h-1zM418 127h2v1h-2zM420 128h1v1h-1zM421 129h2v1h-2zM423 130h1v1h-1zM424 131h2v1h-2zM426 132h1v1h-1zM427 133h1v1h-1zM428 134h2v1h-2zM430 135h1v1h-1zM431 136h1v1h-1zM432 137h1v1h-1zM433 138h1v1h-1zM434 139h2v1h-2zM436 140h1v1h-1zM437 141h1v1h-1zM438 142h2v1h-2zM440 143h1v1h-1zM441 144h2v1h-2zM443 145h2v1h-2zM445 146h1v1h-1zM446 147h2v1h-2zM448 148h1v1h-1zM449 149h1v1h-1zM450 150h2v1h-2zM452 151h1v1h-1zM453 152h1v1h-1zM454 153h1v1h-1zM455 154h1v1h-1zM456 155h2v1h-2zM458 156h1v1h-1zM459 157v1h1v-1zM460 158v1h1v-1zM461 159v1h1v-1zM462 160v1h1v-1zM463 161v1h1v-1zM464 162v1h1v-1zM465 163v2h1v-2zM466 165v1h1v-1zM467 166v1h1v-1zM468 167v1h1v-1zM469 168v1h1v-1zM470 169v1h1v-1zM471 170v1h1v-1zM472 171v1h1v-1zM473 172v2h1v-2zM474 174v1h1v-1zM475 175v1h1v-1zM476 176v1h1v-1zM477 177v1h1v-1zM478 178v2h1v-2zM479 180v1h1v-1zM480 181v1h1v-1zM481 182v1h1v-1zM482 183v2h1v-2zM483 185v1h1v-1zM484 186v1h1v-1zM485 187v2h1v-2zM486 189v1h1v-1zM487 190v1h1v-1zM488 191v2h1v-2zM489 193v1h1v-1zM490 194v1h1v-1zM491 195v2h1v-2zM492 197v1h1v-1zM493 198v1h1v-1zM494 199v1h1v-1zM495 200v1h1v-1zM496 201v1h1v-1zM497 202v1h1v-1zM498 203v2h1v-2zM499 205v1h1v-1zM500 206v1h1v-1zM501 207v1h1v-1zM502 208v1h1v-1zM503 209v1h1v-1zM504 210v1h1v-1zM505 211v1h1v-1zM506 212v2h1v-2zM507 214v1h1v-1zM508 215v1h1v-1zM509 216v1h1v-1zM510 217v1h1v-1zM511 218v2h1v-2zM512 220v1h1v-1zM513 221v1h1v-1zM514 222h1v1h-1zM515 223h1v1h-1zM516 224h1v1h-1zM517 225h1v1h-1zM518 226h1v1h-1zM519 227h2v1h-2zM521 228h1v1h-1zM522 229h1v1h-1zM523 230h1v1h-1zM524 231h1v1h-1zM525 232h1v1h-1zM526 233h1v1h-1zM527 234h1v1h-1zM528 235h1v1h-1zM529 236h1v1h-1zM530 237h1v1h-1zM531 238h1v1h-1zM532 239h1v1h-1zM533 240h1v1h-1zM534 241h1v1h-1zM535 242h1v1h-1zM536 243v1h1v-1zM537 244v1h1v-1zM538 245v1h1v-1zM539 246v2h1v-2zM540 248v1h1v-1zM541 249v1h1v-1zM542 250v1h1v-1zM543 251v1h1v-1zM544 252v2h1v-2zM545 254v1h1v-1zM546 255v1h1v-1zM547 256v1h1v-1zM548 257v2h1v-2zM549 259v1h1v-1zM550 260v1h1v-1zM551 261v2h1v-2zM552 263v1h1v-1zM553 264v1h1v-1zM554 265v2h1v-2zM555 267v1h1v-1zM556 268v1h1v-1zM557 269v2h1v-2zM558 271v1h1v-1zM559 272v2h1v-2zM560 274v1h1v-1zM561 275v1h1v-1zM562 276v2h1v-2zM563 278v1h1v-1zM564 279v2h1v-2zM565 281v1h1v-1zM566 282v2h1v-2zM567 284v1h1v-1zM568 285v1h1v-1zM569 286v2h1v-2zM570 288v1h1v-1zM571 289v1h1v-1zM572 290v2h1v-2zM573 292v1h1v-1zM574 293v1h1v-1zM575 294v1h1v-1zM576 295v2h1v-2zM577 297v1h1v-1zM578 298v1h1v-1zM579 299v2h1v-2zM580 301v1h1v-1zM581 302v1h1v-1zM582 303v2h1v-2zM583 305v1h1v-1zM584 306v2h1v-2zM585 308v1h1v-1zM586 309v1h1v-1zM587 310v2h1v-2zM588 312v1h1v-1zM589 313v2h1v-2zM590 315v1h1v-1zM591 316v2h1v-2zM592 318v1h1v-1zM593 319v2h1v-2zM594 321v1h1v-1zM595 322v2h1v-2zM596 324v1h1v-1zM597 325v1h1v-1zM598 326v2h1v-2zM599 328v1h1v-1zM600 329v2h1v-2zM601 331v1h1v-1zM602 332v2h1v-2zM603 334h1v1h-1zM604 335h1v1h-1zM605 336h1v1h-1zM606 337h1v1h-1zM607 338h1v1h-1zM608 339h1v1h-1zM609 340h1v1h-1zM610 341h1v1h-1zM611 342h1v1h-1zM612 343h1v1h-1zM613 344h1v1h-1zM614 345h1v1h-1zM615 346h2v1h-2zM617 347h1v1h-1zM618 348h2v1h-2zM620 349h2v1h-2zM622 350h1v1h-1zM623 351h2v1h-2zM625 352h1v1h-1zM626 353h1v1h-1zM627 354h2v1h-2zM629 355h1v1h-1zM630 356h1v1h-1zM631 357h1v1h-1zM632 358h1v1h-1zM633 359h2v1h-2zM635 360h1v1h-1zM636 361h1v1h-1zM637 362h1v1h-1zM638 363h2v1h-2zM640 364h1v1h-1zM641 365h1v1h-1zM642 366h1v1h-1zM643 367h1v1h-1zM644 368h2v1h-2zM646 369h1v1h-1zM647 370h1v1h-1zM648 371h1v1h-1zM649 372h2v1h-2zM651 373h1v1h-1zM652 374h1v1h-1zM653 375h1v1h-1zM654 376h1v1h-1zM655 377h2v1h-2zM657 378h1v1h-1zM658 379h1v1h-1zM659 380h2v1h-2zM661 381h1v1h-1zM662 382h1v1h-1zM663 383h2v1h-2zM665 384h1v1h-1zM666 385h1v1h-1zM667 386h2v1h-2zM669 387h2v1h-2zM671 388h3v1h-3zM674 389h2v1h-2zM676 390h3v1h-3zM679 391h1v1h-1zM680 391h2v1h-2zM682 392h4v1h-4zM686 393h4v1h-4zM690 394h1v1h-1zM691 394h3v1h-3zM694 395h6v1h-6zM700 396h3v1h-3zM703 396h2v1h-2zM705 395h4v1h-4zM709 394h4v1h-4zM713 393h1v1h-1zM714 393h1v1h-1zM715 394h2v1h-2zM717 395h2v1h-2zM719 396h2v1h-2zM721 397h2v1h-2zM723 398h2v1h-2zM725 399h2v1h-2zM727 400h3v1h-3zM730 401h2v1h-2zM732 402h3v1h-3zM735 403h1v1h-1zM736 403h1v1h-1zM737 404h1v1h-1zM738 405h1v1h-1zM739 406h1v1h-1zM740 407h1v1h-1zM741 408h2v1h-2zM743 409h1v1h-1zM744 410h1v1h-1zM745 411h1v1h-1zM746 412h1v1h-1zM747 413h1v1h-1zM748 414h2v1h-2zM750 415h2v1h-2zM752 416h2v1h-2zM754 417h2v1h-2zM756 418h2v1h-2zM758 419h1v1h-1zM759 420h1v1h-1zM760 421h2v1h-2zM762 422h1v1h-1zM763 423h1v1h-1zM764 424h1v1h-1zM765 425h1v1h-1zM766 426h2v1h-2zM768 427h1v1h-1zM769 428h1v1h-1zM770 429h2v1h-2zM772 430h2v1h-2zM774 431h2v1h-2zM776 432h2v1h-2zM778 433h2v1h-2zM780 434h2v1h-2zM782 435h3v1h-3zM785 436h2v1h-2zM787 437h3v1h-3zM790 438h1v1h-1zM791 438h1v1h-1zM792 439h1v1h-1zM793 440h2v1h-2zM795 441h1v1h-1zM796 442h1v1h-1zM797 443h1v1h-1zM798 444h1v1h-1zM799 445h2v1h-2zM801 446h1v1h-1zM802 447h2v1h-2zM804 448h2v1h-2zM806 449h2v1h-2zM808 450h2v1h-2zM810 451h2v1h-2zM812 452h1v1h-1zM813 452h2v1h-2zM815 453h4v1h-4zM819 454h4v1h-4zM823 455h1v1h-1zM824 455h2v1h-2zM826 456h3v1h-3zM829 457h2v1h-2zM831 458h3v1h-3zM834 459h1v1h-1zM835 459h2v1h-2zM837 460h3v1h-3zM840 461h3v1h-3zM843 462h3v1h-3zM846 463h1v1h-1zM847 463h3v1h-3zM850 464h6v1h-6zM856 465h2v1h-2zM858 465h11v1h-11zM869 465h11v1h-11zM880 465h3v1h-3zM883 466h6v1h-6zM889 467h2v1h-2zM891 467h2v1h-2zM893 468h3v1h-3zM896 469h2v1h-2zM898 470h3v1h-3zM901 471h1v1h-1zM902 471h6v1h-6zM908 472h5v1h-5zM913 472h3v1h-3zM916 471h6v1h-6zM922 470h2v1h-2zM924 470h3v1h-3zM927 469h6v1h-6zM933 468h2v1h-2zM935 468h1v1h-1zM936 467h2v1h-2zM938 466h2v1h-2zM940 465h2v1h-2zM942 464h2v1h-2zM944 463h2v1h-2zM946 462h1v1h-1zM947 461h2v1h-2zM949 460h1v1h-1zM950 459h2v1h-2zM952 458h2v1h-2zM954 457h1v1h-1zM955 456h2v1h-2zM957 455v1h1v-1zM958 454v1h1v-1zM959 453v1h1v-1zM960 452v1h1v-1zM961 451v1h1v-1zM962 450v1h1v-1zM963 448v2h1v-2zM964 447v1h1v-1zM965 446v1h1v-1zM966 445v1h1v-1zM967 444v1h1v-1zM968 443v1h1v-1zM969 442v1h1v-1zM970 441v1h1v-1zM971 440v1h1v-1zM972 439v1h1v-1zM973 438v1h1v-1zM974 436v2h1v-2zM975 435v1h1v-1zM976 434v1h1v-1zM977 433v1h1v-1zM978 432v1h1v-1zM979 431v1h1v-1zM980 430v1h1v-1zM981 429v1h1v-1zM982 427v2h1v-2zM983 426v1h1v-1zM984 425v1h1v-1zM985 424v1h1v-1zM986 423v1h1v-1zM987 422v1h1v-1zM988 420v2h1v-2zM989 419v1h1v-1zM990 418v1h1v-1zM991 417v1h1v-1zM992 416v1h1v-1zM993 415v1h1v-1zM994 413v2h1v-2zM995 412v1h1v-1zM996 411v1h1v-1zM997 410v1h1v-1zM998 409v1h1v-1zM999 407v2h1v-2zM1000 406v1h1v-1zM1001 405v1h1v-1zM1002 404v1h1v-1zM1003 403v1h1v-1zM1004 402v1h1v-1zM1005 400v2h1v-2zM1006 399v1h1v-1zM1007 398v1h1v-1zM1008 397v1h1v-1zM1009 396v1h1v-1zM1010 394v2h1v-2zM1011 393v1h1v-1zM1012 392v1h1v-1zM1013 391v1h1v-1zM1014 390v1h1v-1zM1015 388v2h1v-2zM1016 387v1h1v-1zM1017 386v1h1v-1zM1018 385v1h1v-1zM1019 383v2h1v-2zM1020 382v1h1v-1zM1021 381v1h1v-1zM1022 379v2h1v-2zM1023 378v1h1v-1zM1024 377v1h1v-1zM1025 376v1h1v-1zM1026 374v2h1v-2zM1027 373v1h1v-1zM1028 372v1h1v-1zM1029 371v1h1v-1zM1030 369v2h1v-2zM1031 368v1h1v-1zM1032 367v1h1v-1zM1033 365v2h1v-2zM1034 364v1h1v-1zM1035 363v1h1v-1zM1036 362v1h1v-1zM1037 361v1h1v-1zM1038 360v1h1v-1zM1039 359v1h1v-1zM1040 358v1h1v-1zM1041 356v2h1v-2zM1042 355v1h1v-1zM1043 354v1h1v-1zM1044 353v1h1v-1zM1045 352v1h1v-1zM1046 351h1v1h-1zM1047 350h1v1h-1zM1048 349h1v1h-1zM1049 348h1v1h-1zM1050 347h1v1h-1zM1051 346h1v1h-1zM1052 345h1v1h-1zM1053 344h1v1h-1zM1054 343h1v1h-1zM1055 342h1v1h-1zM1056 341h1v1h-1zM1057 340h1v1h-1zM1058 339h1v1h-1zM1059 338h1v1h-1zM1060 337h1v1h-1zM1061 336h1v1h-1zM1062 335h2v1h-2zM1064 334h1v1h-1zM1065 333h1v1h-1zM1066 332h1v1h-1zM1067 331h1v1h-1zM1068 330h1v1h-1zM1069 329h1v1h-1zM1070 328h2v1h-2zM1072 327h1v1h-1zM1073 326h1v1h-1zM1074 325h1v1h-1zM1075 324h1v1h-1zM1076 323h2v1h-2zM1078 322h1v1h-1zM1079 321h1v1h-1zM1080 320h1v1h-1zM1081 319h1v1h-1zM1082 318h1v1h-1zM1083 317h1v1h-1zM1084 316h2v1h-2zM1086 315h1v1h-1zM1087 314h1v1h-1zM1088 313h1v1h-1zM1089 312h1v1h-1zM1090 311h1v1h-1zM1091 310h2v1h-2zM1093 309h1v1h-1zM1094 308h1v1h-1zM1095 307h2v1h-2zM1097 306h1v1h-1zM1098 305h1v1h-1zM1099 304h2v1h-2zM1101 303h1v1h-1zM1102 302h2v1h-2zM1104 301h1v1h-1zM1105 300h1v1h-1zM1106 299h2v1h-2zM1108 298h1v1h-1zM1109 297h1v1h-1zM1110 296h2v1h-2zM1112 295h1v1h-1zM1113 294h1v1h-1zM1114 293h1v1h-1zM1115 292h1v1h-1zM1116 291h1v1h-1zM1117 290h1v1h-1zM1118 289h2v1h-2zM1120 288h1v1h-1zM1121 287h1v1h-1zM1122 286h1v1h-1zM1123 285h1v1h-1zM1124 284h1v1h-1zM1125 283h2v1h-2zM1127 282h1v1h-1zM1128 281h1v1h-1zM1129 280h2v1h-2zM1131 279h1v1h-1zM1132 278h1v1h-1zM1133 277h2v1h-2zM1135 276h1v1h-1zM1136 275h2v1h-2zM1138 274h2v1h-2zM1140 273h2v1h-2zM1142 272h2v1h-2zM1144 271h2v1h-2zM1146 270h1v1h-1zM1147 269h2v1h-2zM1149 268h2v1h-2zM1151 267h2v1h-2zM1153 266h2v1h-2zM1155 265h2v1h-2zM1157 264h1v1h-1zM1158 263h1v1h-1zM1159 262h2v1h-2zM1161 261h1v1h-1zM1162 260h1v1h-1zM1163 259h1v1h-1zM1164 258h1v1h-1zM1165 257h2v1h-2zM1167 256h1v1h-1zM1168 255h1v1h-1zM1169 254h2v1h-2zM1171 253h1v1h-1zM1172 252h1v1h-1zM1173 251h2v1h-2zM1175 250h1v1h-1zM1176 249h1v1h-1zM1177 248h2v1h-2zM1179 247h1v1h-1zM1180 246h2v1h-2zM1182 245h1v1h-1zM1183 244h2v1h-2zM1185 243h2v1h-2zM1187 242h1v1h-1zM1188 241h2v1h-2zM1190 240h2v1h-2zM1192 239h4v1h-4zM1196 238h4v1h-4zM1200 237h1v1h-1zM1201 237h2v1h-2zM1203 236h4v1h-4zM1207 235h4v1h-4zM1211 234h1v1h-1zM1212 234h2v1h-2zM1214 233h4v1h-4zM1218 232h4v1h-4zM1222 231h1v1h-1zM1223 231h2v1h-2zM1225 230h3v1h-3zM1228 229h2v1h-2zM1230 228h3v1h-3zM1233 227h1v1h-1zM1234 227h2v1h-2zM1236 226h2v1h-2zM1238 225h2v1h-2zM1240 224h2v1h-2zM1242 223h2v1h-2zM1244 222h1v1h-1zM1245 222h2v1h-2zM1247 221h2v1h-2zM1249 220h2v1h-2zM1251 219h2v1h-2zM1253 218h2v1h-2zM1255 217h1v1h-1zM1256 217h2v1h-2zM1258 216h2v1h-2zM1260 215h2v1h-2zM1262 214h3v1h-3zM1265 213h2v1h-2zM1267 212h1v1h-1zM1268 212h2v1h-2zM1270 211h4v1h-4zM1274 210h4v1h-4zM1278 209h1v1h-1zM1279 209h2v1h-2zM1281 208h3v1h-3zM1284 207h2v1h-2zM1286 206h3v1h-3zM1289 205h1v1h-1zM1290 205h6v1h-6zM1296 206h5v1h-5zM1301 206h2v1h-2zM1303 207h4v1h-4zM1307 208h4v1h-4zM1311 209h1v1h-1zM1312 209h6v1h-6zM1318 208h5v1h-5zM1323 208h3v1h-3zM1326 209h6v1h-6zM1332 210h2v1h-2zM1334 210h2v1h-2zM1336 211h4v1h-4zM1340 212h4v1h-4zM1344 213h1v1h-1zM1345 213h3v1h-3zM1348 214h6v1h-6zM1354 215h2v1h-2zM1356 215h2v1h-2zM1358 216h3v1h-3zM1361 217h2v1h-2zM1363 218h3v1h-3zM1366 219h1v1h-1zM1367 219h1v1h-1zM1368 220h2v1h-2zM1370 221h2v1h-2zM1372 222h2v1h-2zM1374 223h2v1h-2zM1376 224h2v1h-2zM1378 225h1v1h-1zM1379 226h2v1h-2zM1381 227h2v1h-2zM1383 228h2v1h-2zM1385 229h2v1h-2zM1387 230h2v1h-2zM1389 231h2v1h-2zM1391 232h2v1h-2zM1393 233h2v1h-2zM1395 234h2v1h-2zM1397 235h2v1h-2zM1399 236h1v1h-1zM1400 236h2v1h-2zM1402 237h3v1h-3zM1405 238h3v1h-3zM1408 239h3v1h-3zM1411 240h1v1h-1zM1412 240h2v1h-2zM1414 241h2v1h-2zM1416 242h2v1h-2zM1418 243h2v1h-2zM1420 244h2v1h-2zM1422 245h1v1h-1zM1423 245h1v1h-1zM1424 246h2v1h-2zM1426 247h1v1h-1zM1427 248h2v1h-2zM1429 249h2v1h-2zM1431 250h1v1h-1zM1432 251h2v1h-2zM1434 252h2v1h-2zM1436 253h2v1h-2zM1438 254h2v1h-2zM1440 255h2v1h-2zM1442 256h2v1h-2zM1444 257h1v1h-1zM1445 257h2v1h-2zM1447 258h2v1h-2zM1449 259h2v1h-2zM1451 260h2v1h-2zM1453 261h2v1h-2zM1455 262h1v1h-1zM1456 262h1v1h-1zM1457 263h2v1h-2zM1459 264h1v1h-1zM1460 265h2v1h-2zM1462 266h2v1h-2zM1464 267h1v1h-1zM1465 268h2v1h-2zM1467 269h2v1h-2zM1469 270h3v1h-3zM1472 271h2v1h-2zM1474 272h3v1h-3zM1477 273h1v1h-1zM1478 273h1v1h-1zM1479 274h2v1h-2zM1481 275h1v1h-1zM1482 276h2v1h-2zM1484 277h2v1h-2zM1486 278h1v1h-1zM1487 279h2v1h-2zM1489 280h1v1h-1zM1490 281h1v1h-1zM1491 282h1v1h-1zM1492 283h1v1h-1zM1493 284h1v1h-1zM1494 285h1v1h-1zM1495 286h1v1h-1zM1496 287h1v1h-1zM1497 288h1v1h-1zM1498 289h1v1h-1zM1499 290h1v1h-1zM1500 291h1v1h-1zM1501 292h1v1h-1zM1502 293h1v1h-1zM1503 294h1v1h-1zM1504 295h1v1h-1zM1505 296h2v1h-2zM1507 297h1v1h-1zM1508 298h1v1h-1zM1509 299h1v1h-1zM1510 300h1v1h-1zM1511 301h1v1h-1zM1512 302h2v1h-2zM1514 303h2v1h-2zM1516 304h2v1h-2zM1518 305h2v1h-2zM1520 306h2v1h-2zM1522 307h1v1h-1zM1523 308h2v1h-2zM1525 309h1v1h-1zM1526 310h1v1h-1zM1527 311h2v1h-2zM1529 312h1v1h-1zM1530 313h1v1h-1zM1531 314h2v1h-2zM1533 315h1v1h-1zM1534 316h1v1h-1zM1535 317h1v1h-1zM1536 318h1v1h-1zM1537 319h1v1h-1zM1538 320h1v1h-1zM1539 321h2v1h-2zM1541 322h1v1h-1zM1542 323h1v1h-1zM1543 324h1v1h-1zM1544 325h1v1h-1zM1545 326h1v1h-1zM1546 327h1v1h-1zM1547 328h1v1h-1zM1548 329h1v1h-1zM1549 330h1v1h-1zM1550 331h2v1h-2zM1552 332h1v1h-1zM1553 333h1v1h-1zM1554 334h1v1h-1zM1555 335h1v1h-1zM1556 336h1v1h-1zM1557 337h2v1h-2zM1559 338h2v1h-2zM1561 339h2v1h-2zM1563 340h2v1h-2zM1565 341h2v1h-2zM1567 342h1v1h-1zM1568 343h2v1h-2zM1570 344h1v1h-1zM1571 345h2v1h-2zM1573 346h2v1h-2zM1575 347h1v1h-1zM1576 348h2v1h-2zM1578 349h1v1h-1zM1579 350h2v1h-2zM1581 351h2v1h-2zM1583 352h2v1h-2zM1585 353h2v1h-2zM1587 354h2v1h-2zM1589 355h1v1h-1zM1590 356h2v1h-2zM1592 357h2v1h-2zM1594 358h2v1h-2zM1596 359h2v1h-2zM1598 360h2v1h-2zM1600 361h1v1h-1zM1601 362h1v1h-1zM1602 363h1v1h-1zM1603 364h1v1h-1zM1604 365h1v1h-1zM1605 366h1v1h-1zM1606 367h1v1h-1zM1607 368h1v1h-1zM1608 369h1v1h-1zM1609 370h1v1h-1zM1610 371h1v1h-1zM1611 372h1v1h-1zM1612 373h2v1h-2zM1614 374h1v1h-1zM1615 375h1v1h-1zM1616 376h2v1h-2zM1618 377h1v1h-1zM1619 378h1v1h-1zM1620 379h2v1h-2zM1622 380v1h1v-1zM1623 381v2h1v-2zM1624 383v1h1v-1zM1625 384v1h1v-1zM1626 385v2h1v-2zM1627 387v1h1v-1zM1628 388v1h1v-1zM1629 389v2h1v-2zM1630 391v1h1v-1zM1631 392v1h1v-1zM1632 393v2h1v-2zM1633 395h1v1h-1zM1634 396h1v1h-1zM1635 397h1v1h-1zM1636 398h1v1h-1zM1637 399h1v1h-1zM1638 400h1v1h-1zM1639 401h1v1h-1zM1640 402h1v1h-1zM1641 403h1v1h-1zM1642 404h1v1h-1zM1643 405h1v1h-1zM1644 406h1v1h-1zM1645 407h2v1h-2zM1647 408h1v1h-1zM1648 409h1v1h-1zM1649 410h2v1h-2zM1651 411h1v1h-1zM1652 412h1v1h-1zM1653 413h2v1h-2zM1655 414h1v1h-1zM1656 415h2v1h-2zM1658 416h1v1h-1zM1659 417h1v1h-1zM1660 418h2v1h-2zM1662 419h1v1h-1zM1663 420h1v1h-1zM1664 421h2v1h-2zM1666 422h1v1h-1zM1667 423h1v1h-1zM1668 424h1v1h-1zM1669 425h1v1h-1zM1670 426h1v1h-1zM1671 427h2v1h-2zM1673 428h1v1h-1zM1674 429h1v1h-1zM1675 430h1v1h-1zM1676 431h1v1h-1zM1677 432h1v1h-1zM1678 433h2v1h-2zM1680 434h1v1h-1zM1681 435h2v1h-2zM1683 436h1v1h-1zM1684 437h2v1h-2zM1686 438h1v1h-1zM1687 439h2v1h-2zM1689 440v1h1v-1zM1690 441v1h1v-1zM1691 442v2h1v-2zM1692 444v1h1v-1zM1693 445v1h1v-1zM1694 446v1h1v-1zM1695 447v2h1v-2zM1696 449v1h1v-1zM1697 450v1h1v-1zM1698 451v2h1v-2zM1699 453v1h1v-1zM1700 454v1h1v-1z" fill="#ffd700"/>
</g>
<g clip-path="url(#main)">
<ellipse cx="787" cy="511.7" rx="70" ry="48.8" fill="#c0c0ff" stroke="#0000ff" stroke-width="2" shape-rendering="crispEdges"/>
<g clip-path="url(#e1)" shape-rendering="crispEdges">
<rect x="724" y="455" width="3" height="115" fill="#fff"/>
<rect x="735" y="455" width="3" height="115" fill="#fff"/>
<rect x="746" y="455" width="3" height="115" fill="#fff"/>
<rect x="757" y="455" width="3" height="115" fill="#fff"/>
<rect x="768" y="455" width="3" height="115" fill="#fff"/>
<rect x="779" y="455" width="3" height="115" fill="#fff"/>
<rect x="790" y="455" width="3" height="115" fill="#fff"/>
<rect x="801" y="455" width="3" height="115" fill="#fff"/>
<rect x="812" y="455" width="3" height="115" fill="#fff"/>
<rect x="823" y="455" width="3" height="115" fill="#fff"/>
<rect x="834" y="455" width="3" height="115" fill="#fff"/>
<rect x="846" y="455" width="3" height="115" fill="#fff"/>
</g>
<ellipse cx="1656" cy="514.5" rx="86.4" ry="51.1" fill="#c0c0ff" stroke="#0000ff" stroke-width="2" shape-rendering="crispEdges"/>
<g clip-path="url(#e2)" shape-rendering="crispEdges">
<rect x="1577" y="492" width="3" height="47" fill="#fff"/>
<rect x="1588" y="508" width="3" height="41" fill="#fff"/>
<rect x="1599" y="455" width="3" height="100" fill="#fff"/>
<rect x="1610" y="493" width="3" height="68" fill="#fff"/>
<rect x="1621" y="505" width="3" height="58" fill="#fff"/>
<rect x="1632" y="463" width="3" height="107" fill="#fff"/>
<rect x="1643" y="463" width="3" height="107" fill="#fff"/>
<rect x="1654" y="489" width="3" height="81" fill="#fff"/>
<rect x="1665" y="494" width="3" height="76" fill="#fff"/>
<rect x="1676" y="518" width="3" height="52" fill="#fff"/>
<rect x="1688" y="493" width="3" height="69" fill="#fff"/>
</g>
</g>
<g shape-rendering="crispEdges">
<rect x="4" y="101" width="1817" height="1" fill="url(#hd)"/>
<rect x="4" y="209" width="1817" height="1" fill="url(#hd)"/>
<rect x="4" y="317" width="1817" height="1" fill="url(#hd)"/>
<rect x="4" y="426" width="1817" height="1" fill="url(#hd)"/>
<rect x="4" y="534" width="1817" height="1" fill="url(#hd)"/>
<rect x="4" y="622" width="1817" height="1" fill="url(#hd)"/>
<rect x="4" y="644" width="1817" height="1" fill="url(#hd)"/>
<rect x="4" y="667" width="1817" height="1" fill="url(#hd)"/>
<rect x="4" y="689" width="1817" height="1" fill="url(#hd)"/>
<rect x="4" y="712" width="1817" height="1" fill="url(#hd)"/>
<rect x="4" y="734" width="1817" height="1" fill="url(#hd)"/>
<rect x="4" y="761" width="1817" height="1" fill="url(#hd)"/>
<rect x="4" y="850" width="1817" height="1" fill="url(#hd)"/>
<rect x="1500" y="5" width="1" height="457" fill="url(#vd)"/>
<rect x="1500" y="534" width="1" height="1" fill="#fff"/>
</g>
<g clip-path="url(#main)" shape-rendering="crispEdges">
<rect x="5" y="75" width="1" height="21" fill="#000"/>
<rect x="1" y="89" width="9" height="4" fill="#000"/>
<rect x="16" y="84" width="1" height="45" fill="#000"/>
<rect x="12" y="87" width="9" height="21" fill="#000"/>
<rect x="27" y="81" width="1" height="52" fill="#000"/>
<rect x="23" y="107" width="9" height="14" fill="#000"/>
<rect x="24" y="108" width="7" height="12" fill="#fff"/>
<rect x="38" y="89" width="1" height="38" fill="#000"/>
<rect x="34" y="103" width="9" height="23" fill="#000"/>
<rect x="35" y="104" width="7" height="21" fill="#fff"/>
<rect x="49" y="122" width="1" height="95" fill="#000"/>
<rect x="45" y="122" width="9" height="70" fill="#000"/>
<rect x="60" y="180" width="1" height="50" fill="#000"/>
<rect x="56" y="197" width="9" height="25" fill="#000"/>
<rect x="71" y="149" width="1" height="64" fill="#000"/>
<rect x="67" y="170" width="9" height="29" fill="#000"/>
<rect x="68" y="171" width="7" height="27" fill="#fff"/>
<rect x="82" y="161" width="1" height="31" fill="#000"/>
<rect x="78" y="168" width="9" height="21" fill="#000"/>
<rect x="93" y="183" width="1" height="24" fill="#000"/>
<rect x="89" y="191" width="9" height="7" fill="#000"/>
<rect x="104" y="211" width="1" height="37" fill="#000"/>
<rect x="100" y="233" width="9" height="15" fill="#000"/>
<rect x="101" y="234" width="7" height="13" fill="#fff"/>
<rect x="115" y="223" width="1" height="58" fill="#000"/>
<rect x="111" y="224" width="9" height="54" fill="#000"/>
<rect x="126" y="253" width="1" height="30" fill="#000"/>
<rect x="122" y="264" width="9" height="9" fill="#000"/>
<rect x="123" y="265" width="7" height="7" fill="#fff"/>
<rect x="137" y="203" width="1" height="53" fill="#000"/>
<rect x="133" y="210" width="9" height="45" fill="#000"/>
<rect x="134" y="211" width="7" height="43" fill="#fff"/>
<rect x="149" y="137" width="1" height="37" fill="#000"/>
<rect x="145" y="141" width="9" height="32" fill="#000"/>
<rect x="146" y="142" width="7" height="30" fill="#fff"/>
<rect x="160" y="101" width="1" height="17" fill="#000"/>
<rect x="156" y="103" width="9" height="2" fill="#000"/>
<rect x="171" y="97" width="1" height="22" fill="#000"/>
<rect x="167" y="97" width="9" height="14" fill="#000"/>
<rect x="168" y="98" width="7" height="12" fill="#fff"/>
<rect x="182" y="88" width="1" height="18" fill="#000"/>
<rect x="178" y="92" width="9" height="8" fill="#000"/>
<rect x="179" y="93" width="7" height="6" fill="#fff"/>
<rect x="193" y="41" width="1" height="37" fill="#000"/>
<rect x="189" y="54" width="9" height="21" fill="#000"/>
<rect x="190" y="55" width="7" height="19" fill="#fff"/>
<rect x="204" y="45" width="1" height="23" fill="#000"/>
<rect x="200" y="47" width="9" height="17" fill="#000"/>
<rect x="215" y="36" width="1" height="28" fill="#000"/>
<rect x="211" y="50" width="9" height="13" fill="#000"/>
<rect x="212" y="51" width="7" height="11" fill="#fff"/>
<rect x="226" y="44" width="1" height="39" fill="#000"/>
<rect x="222" y="46" width="9" height="33" fill="#000"/>
<rect x="237" y="82" width="1" height="22" fill="#000"/>
<rect x="233" y="96" width="9" height="3" fill="#000"/>
<rect x="234" y="97" width="7" height="1" fill="#fff"/>
<rect x="248" y="77" width="1" height="34" fill="#000"/>
<rect x="244" y="77" width="9" height="22" fill="#000"/>
<rect x="259" y="93" width="1" height="44" fill="#000"/>
<rect x="255" y="108" width="9" height="27" fill="#000"/>
<rect x="270" y="146" width="1" height="52" fill="#000"/>
<rect x="266" y="147" width="9" height="51" fill="#000"/>
<rect x="282" y="158" width="1" height="36" fill="#000"/>
<rect x="278" y="171" width="9" height="11" fill="#000"/>
<rect x="279" y="172" width="7" height="9" fill="#fff"/>
<rect x="293" y="155" width="1" height="27" fill="#000"/>
<rect x="289" y="155" width="9" height="9" fill="#000"/>
<rect x="304" y="142" width="1" height="37" fill="#000"/>
<rect x="300" y="143" width="9" height="11" fill="#000"/>
<rect x="315" y="140" width="1" height="32" fill="#000"/>
<rect x="311" y="142" width="9" height="9" fill="#000"/>
<rect x="312" y="143" width="7" height="7" fill="#fff"/>
<rect x="326" y="110" width="1" height="44" fill="#000"/>
<rect x="322" y="113" width="9" height="33" fill="#000"/>
<rect x="323" y="114" width="7" height="31" fill="#fff"/>
<rect x="337" y="107" width="1" height="20" fill="#000"/>
<rect x="333" y="110" width="9" height="12" fill="#000"/>
<rect x="334" y="111" width="7" height="10" fill="#fff"/>
<rect x="348" y="66" width="1" height="35" fill="#000"/>
<rect x="344" y="72" width="9" height="29" fill="#000"/>
<rect x="345" y="73" width="7" height="27" fill="#fff"/>
<rect x="359" y="65" width="1" height="20" fill="#000"/>
<rect x="355" y="78" width="9" height="5" fill="#000"/>
<rect x="370" y="84" width="1" height="19" fill="#000"/>
<rect x="366" y="88" width="9" height="16" fill="#000"/>
<rect x="381" y="76" width="1" height="40" fill="#000"/>
<rect x="377" y="78" width="9" height="14" fill="#000"/>
<rect x="378" y="79" width="7" height="12" fill="#fff"/>
<rect x="392" y="89" width="1" height="59" fill="#000"/>
<rect x="388" y="90" width="9" height="57" fill="#000"/>
<rect x="403" y="176" width="1" height="56" fill="#000"/>
<rect x="399" y="177" width="9" height="49" fill="#000"/>
<rect x="414" y="172" width="1" height="40" fill="#000"/>
<rect x="410" y="188" width="9" height="19" fill="#000"/>
<rect x="426" y="190" width="1" height="38" fill="#000"/>
<rect x="422" y="207" width="9" height="6" fill="#000"/>
<rect x="437" y="186" width="1" height="62" fill="#000"/>
<rect x="433" y="199" width="9" height="24" fill="#000"/>
<rect x="448" y="215" width="1" height="18" fill="#000"/>
<rect x="444" y="226" width="9" height="2" fill="#000"/>
<rect x="459" y="243" width="1" height="36" fill="#000"/>
<rect x="455" y="248" width="9" height="31" fill="#000"/>
<rect x="470" y="285" width="1" height="54" fill="#000"/>
<rect x="466" y="297" width="9" height="36" fill="#000"/>
<rect x="481" y="332" width="1" height="68" fill="#000"/>
<rect x="477" y="375" width="9" height="25" fill="#000"/>
<rect x="492" y="441" width="1" height="126" fill="#000"/>
<rect x="488" y="469" width="9" height="34" fill="#000"/>
<rect x="503" y="386" width="1" height="94" fill="#000"/>
<rect x="499" y="397" width="9" height="69" fill="#000"/>
<rect x="500" y="398" width="7" height="67" fill="#fff"/>
<rect x="514" y="394" width="1" height="62" fill="#000"/>
<rect x="510" y="426" width="9" height="10" fill="#000"/>
<rect x="511" y="427" width="7" height="8" fill="#fff"/>
<rect x="525" y="344" width="1" height="34" fill="#000"/>
<rect x="521" y="357" width="9" height="11" fill="#000"/>
<rect x="522" y="358" width="7" height="9" fill="#fff"/>
<rect x="536" y="353" width="1" height="31" fill="#000"/>
<rect x="532" y="353" width="9" height="9" fill="#000"/>
<rect x="547" y="367" width="1" height="30" fill="#000"/>
<rect x="543" y="369" width="9" height="14" fill="#000"/>
<rect x="544" y="370" width="7" height="12" fill="#fff"/>
<rect x="558" y="401" width="1" height="40" fill="#000"/>
<rect x="554" y="411" width="9" height="12" fill="#000"/>
<rect x="570" y="401" width="1" height="33" fill="#000"/>
<rect x="566" y="412" width="9" height="4" fill="#000"/>
<rect x="581" y="344" width="1" height="47" fill="#000"/>
<rect x="577" y="357" width="9" height="35" fill="#000"/>
<rect x="578" y="358" width="7" height="33" fill="#fff"/>
<rect x="592" y="379" width="1" height="47" fill="#000"/>
<rect x="588" y="379" width="9" height="39" fill="#000"/>
<rect x="603" y="387" width="1" height="27" fill="#000"/>
<rect x="599" y="394" width="9" height="9" fill="#000"/>
<rect x="614" y="346" width="1" height="37" fill="#000"/>
<rect x="610" y="367" width="9" height="17" fill="#000"/>
<rect x="611" y="368" width="7" height="15" fill="#fff"/>
<rect x="625" y="319" width="1" height="42" fill="#000"/>
<rect x="621" y="320" width="9" height="41" fill="#000"/>
<rect x="636" y="356" width="1" height="36" fill="#000"/>
<rect x="632" y="379" width="9" height="2" fill="#000"/>
<rect x="647" y="373" width="1" height="36" fill="#000"/>
<rect x="643" y="373" width="9" height="27" fill="#000"/>
<rect x="658" y="378" width="1" height="29" fill="#000"/>
<rect x="654" y="397" width="9" height="5" fill="#000"/>
<rect x="655" y="398" width="7" height="3" fill="#fff"/>
<rect x="669" y="376" width="1" height="34" fill="#000"/>
<rect x="665" y="385" width="9" height="7" fill="#000"/>
<rect x="666" y="386" width="7" height="5" fill="#fff"/>
<rect x="680" y="354" width="1" height="34" fill="#000"/>
<rect x="676" y="363" width="9" height="14" fill="#000"/>
<rect x="691" y="367" width="1" height="14" fill="#000"/>
<rect x="687" y="367" width="9" height="10" fill="#000"/>
<rect x="703" y="387" width="1" height="67" fill="#000"/>
<rect x="699" y="387" width="9" height="58" fill="#000"/>
<rect x="714" y="427" width="1" height="45" fill="#000"/>
<rect x="710" y="437" width="9" height="25" fill="#000"/>
<rect x="711" y="438" width="7" height="23" fill="#fff"/>
<rect x="725" y="431" width="1" height="90" fill="#000"/>
<rect x="721" y="431" width="9" height="89" fill="#000"/>
<rect x="736" y="489" width="1" height="45" fill="#000"/>
<rect x="732" y="510" width="9" height="7" fill="#000"/>
<rect x="733" y="511" width="7" height="5" fill="#fff"/>
<rect x="747" y="490" width="1" height="73" fill="#000"/>
<rect x="743" y="512" width="9" height="39" fill="#000"/>
<rect x="758" y="482" width="1" height="32" fill="#000"/>
<rect x="754" y="493" width="9" height="21" fill="#000"/>
<rect x="755" y="494" width="7" height="19" fill="#fff"/>
<rect x="769" y="497" width="1" height="41" fill="#000"/>
<rect x="765" y="505" width="9" height="33" fill="#000"/>
<rect x="780" y="527" width="1" height="45" fill="#000"/>
<rect x="776" y="545" width="9" height="23" fill="#000"/>
<rect x="777" y="546" width="7" height="21" fill="#fff"/>
<rect x="791" y="485" width="1" height="27" fill="#000"/>
<rect x="787" y="497" width="9" height="2" fill="#000"/>
<rect x="802" y="473" width="1" height="66" fill="#000"/>
<rect x="798" y="478" width="9" height="55" fill="#000"/>
<rect x="813" y="499" width="1" height="57" fill="#000"/>
<rect x="809" y="511" width="9" height="12" fill="#000"/>
<rect x="824" y="459" width="1" height="43" fill="#000"/>
<rect x="820" y="466" width="9" height="27" fill="#000"/>
<rect x="821" y="467" width="7" height="25" fill="#fff"/>
<rect x="835" y="436" width="1" height="47" fill="#000"/>
<rect x="831" y="447" width="9" height="37" fill="#000"/>
<rect x="832" y="448" width="7" height="35" fill="#fff"/>
<rect x="847" y="407" width="1" height="32" fill="#000"/>
<rect x="843" y="432" width="9" height="1" fill="#000"/>
<rect x="858" y="421" width="1" height="23" fill="#000"/>
<rect x="854" y="427" width="9" height="12" fill="#000"/>
<rect x="855" y="428" width="7" height="10" fill="#fff"/>
<rect x="869" y="395" width="1" height="20" fill="#000"/>
<rect x="865" y="404" width="9" height="2" fill="#000"/>
<rect x="880" y="386" width="1" height="27" fill="#000"/>
<rect x="876" y="398" width="9" height="3" fill="#000"/>
<rect x="891" y="403" width="1" height="36" fill="#000"/>
<rect x="887" y="403" width="9" height="17" fill="#000"/>
<rect x="902" y="419" width="1" height="29" fill="#000"/>
<rect x="898" y="437" width="9" height="8" fill="#000"/>
<rect x="913" y="408" width="1" height="27" fill="#000"/>
<rect x="909" y="412" width="9" height="15" fill="#000"/>
<rect x="910" y="413" width="7" height="13" fill="#fff"/>
<rect x="924" y="391" width="1" height="22" fill="#000"/>
<rect x="920" y="398" width="9" height="6" fill="#000"/>
<rect x="935" y="383" width="1" height="25" fill="#000"/>
<rect x="931" y="390" width="9" height="18" fill="#000"/>
<rect x="932" y="391" width="7" height="16" fill="#fff"/>
<rect x="946" y="385" width="1" height="23" fill="#000"/>
<rect x="942" y="388" width="9" height="7" fill="#000"/>
<rect x="957" y="367" width="1" height="35" fill="#000"/>
<rect x="953" y="375" width="9" height="12" fill="#000"/>
<rect x="954" y="376" width="7" height="10" fill="#fff"/>
<rect x="968" y="318" width="1" height="63" fill="#000"/>
<rect x="964" y="319" width="9" height="62" fill="#000"/>
<rect x="965" y="320" width="7" height="60" fill="#fff"/>
<rect x="979" y="243" width="1" height="56" fill="#000"/>
<rect x="975" y="254" width="9" height="41" fill="#000"/>
<rect x="976" y="255" width="7" height="39" fill="#fff"/>
<rect x="991" y="240" width="1" height="22" fill="#000"/>
<rect x="987" y="252" width="9" height="3" fill="#000"/>
<rect x="988" y="253" width="7" height="1" fill="#fff"/>
<rect x="1002" y="252" width="1" height="25" fill="#000"/>
<rect x="998" y="261" width="9" height="16" fill="#000"/>
<rect x="1013" y="244" width="1" height="31" fill="#000"/>
<rect x="1009" y="246" width="9" height="23" fill="#000"/>
<rect x="1010" y="247" width="7" height="21" fill="#fff"/>
<rect x="1024" y="235" width="1" height="29" fill="#000"/>
<rect x="1020" y="240" width="9" height="13" fill="#000"/>
<rect x="1035" y="242" width="1" height="21" fill="#000"/>
<rect x="1031" y="242" width="9" height="2" fill="#000"/>
<rect x="1046" y="215" width="1" height="48" fill="#000"/>
<rect x="1042" y="220" width="9" height="44" fill="#000"/>
<rect x="1043" y="221" width="7" height="42" fill="#fff"/>
<rect x="1057" y="216" width="1" height="18" fill="#000"/>
<rect x="1053" y="220" width="9" height="2" fill="#000"/>
<rect x="1068" y="212" width="1" height="34" fill="#000"/>
<rect x="1064" y="218" width="9" height="26" fill="#000"/>
<rect x="1079" y="218" width="1" height="38" fill="#000"/>
<rect x="1075" y="233" width="9" height="10" fill="#000"/>
<rect x="1076" y="234" width="7" height="8" fill="#fff"/>
<rect x="1090" y="198" width="1" height="45" fill="#000"/>
<rect x="1086" y="212" width="9" height="26" fill="#000"/>
<rect x="1087" y="213" width="7" height="24" fill="#fff"/>
<rect x="1101" y="211" width="1" height="39" fill="#000"/>
<rect x="1097" y="211" width="9" height="39" fill="#000"/>
<rect x="1112" y="241" width="1" height="27" fill="#000"/>
<rect x="1108" y="242" width="9" height="4" fill="#000"/>
<rect x="1124" y="211" width="1" height="33" fill="#000"/>
<rect x="1120" y="229" width="9" height="15" fill="#000"/>
<rect x="1121" y="230" width="7" height="13" fill="#fff"/>
<rect x="1135" y="219" width="1" height="47" fill="#000"/>
<rect x="1131" y="232" width="9" height="25" fill="#000"/>
<rect x="1146" y="251" width="1" height="43" fill="#000"/>
<rect x="1142" y="260" width="9" height="13" fill="#000"/>
<rect x="1157" y="261" width="1" height="33" fill="#000"/>
<rect x="1153" y="271" width="9" height="24" fill="#000"/>
<rect x="1154" y="272" width="7" height="22" fill="#fff"/>
<rect x="1168" y="215" width="1" height="41" fill="#000"/>
<rect x="1164" y="215" width="9" height="36" fill="#000"/>
<rect x="1165" y="216" width="7" height="34" fill="#fff"/>
<rect x="1179" y="214" width="1" height="22" fill="#000"/>
<rect x="1175" y="218" width="9" height="13" fill="#000"/>
<rect x="1176" y="219" width="7" height="11" fill="#fff"/>
<rect x="1190" y="178" width="1" height="21" fill="#000"/>
<rect x="1186" y="191" width="9" height="6" fill="#000"/>
<rect x="1187" y="192" width="7" height="4" fill="#fff"/>
<rect x="1201" y="177" width="1" height="20" fill="#000"/>
<rect x="1197" y="182" width="9" height="2" fill="#000"/>
<rect x="1212" y="183" width="1" height="14" fill="#000"/>
<rect x="1208" y="186" width="9" height="4" fill="#000"/>
<rect x="1223" y="195" width="1" height="42" fill="#000"/>
<rect x="1219" y="195" width="9" height="29" fill="#000"/>
<rect x="1234" y="170" width="1" height="55" fill="#000"/>
<rect x="1230" y="172" width="9" height="47" fill="#000"/>
<rect x="1231" y="173" width="7" height="45" fill="#fff"/>
<rect x="1245" y="131" width="1" height="39" fill="#000"/>
<rect x="1241" y="140" width="9" height="31" fill="#000"/>
<rect x="1242" y="141" width="7" height="29" fill="#fff"/>
<rect x="1256" y="133" width="1" height="22" fill="#000"/>
<rect x="1252" y="146" width="9" height="4" fill="#000"/>
<rect x="1253" y="147" width="7" height="2" fill="#fff"/>
<rect x="1268" y="118" width="1" height="35" fill="#000"/>
<rect x="1264" y="126" width="9" height="26" fill="#000"/>
<rect x="1265" y="127" width="7" height="24" fill="#fff"/>
<rect x="1279" y="117" width="1" height="40" fill="#000"/>
<rect x="1275" y="118" width="9" height="36" fill="#000"/>
<rect x="1290" y="139" width="1" height="30" fill="#000"/>
<rect x="1286" y="144" width="9" height="25" fill="#000"/>
<rect x="1301" y="141" width="1" height="116" fill="#000"/>
<rect x="1297" y="172" width="9" height="84" fill="#000"/>
<rect x="1312" y="250" width="1" height="39" fill="#000"/>
<rect x="1308" y="259" width="9" height="5" fill="#000"/>
<rect x="1323" y="210" width="1" height="40" fill="#000"/>
<rect x="1319" y="234" width="9" height="12" fill="#000"/>
<rect x="1320" y="235" width="7" height="10" fill="#fff"/>
<rect x="1334" y="233" width="1" height="59" fill="#000"/>
<rect x="1330" y="238" width="9" height="43" fill="#000"/>
<rect x="1345" y="270" width="1" height="35" fill="#000"/>
<rect x="1341" y="270" width="9" height="28" fill="#000"/>
<rect x="1356" y="283" width="1" height="35" fill="#000"/>
<rect x="1352" y="296" width="9" height="12" fill="#000"/>
<rect x="1353" y="297" width="7" height="10" fill="#fff"/>
<rect x="1367" y="298" width="1" height="63" fill="#000"/>
<rect x="1363" y="302" width="9" height="51" fill="#000"/>
<rect x="1378" y="330" width="1" height="67" fill="#000"/>
<rect x="1374" y="338" width="9" height="58" fill="#000"/>
<rect x="1389" y="322" width="1" height="52" fill="#000"/>
<rect x="1385" y="328" width="9" height="46" fill="#000"/>
<rect x="1386" y="329" width="7" height="44" fill="#fff"/>
<rect x="1400" y="303" width="1" height="31" fill="#000"/>
<rect x="1396" y="323" width="9" height="1" fill="#000"/>
<rect x="1412" y="247" width="1" height="36" fill="#000"/>
<rect x="1408" y="266" width="9" height="12" fill="#000"/>
<rect x="1409" y="267" width="7" height="10" fill="#fff"/>
<rect x="1423" y="267" width="1" height="41" fill="#000"/>
<rect x="1419" y="287" width="9" height="8" fill="#000"/>
<rect x="1434" y="254" width="1" height="64" fill="#000"/>
<rect x="1430" y="294" width="9" height="25" fill="#000"/>
<rect x="1445" y="292" width="1" height="47" fill="#000"/>
<rect x="1441" y="296" width="9" height="24" fill="#000"/>
<rect x="1456" y="267" width="1" height="30" fill="#000"/>
<rect x="1452" y="268" width="9" height="24" fill="#000"/>
<rect x="1453" y="269" width="7" height="22" fill="#fff"/>
<rect x="1467" y="263" width="1" height="27" fill="#000"/>
<rect x="1463" y="264" width="9" height="21" fill="#000"/>
<rect x="1478" y="240" width="1" height="27" fill="#000"/>
<rect x="1474" y="241" width="9" height="24" fill="#000"/>
<rect x="1475" y="242" width="7" height="22" fill="#fff"/>
<rect x="1489" y="241" width="1" height="25" fill="#000"/>
<rect x="1485" y="241" width="9" height="25" fill="#000"/>
<rect x="1500" y="321" width="1" height="53" fill="#000"/>
<rect x="1496" y="322" width="9" height="43" fill="#000"/>
<rect x="1511" y="343" width="1" height="45" fill="#000"/>
<rect x="1507" y="345" width="9" height="16" fill="#000"/>
<rect x="1522" y="363" width="1" height="42" fill="#000"/>
<rect x="1518" y="363" width="9" height="17" fill="#000"/>
<rect x="1533" y="394" width="1" height="73" fill="#000"/>
<rect x="1529" y="394" width="9" height="37" fill="#000"/>
<rect x="1545" y="400" width="1" height="59" fill="#000"/>
<rect x="1541" y="423" width="9" height="36" fill="#000"/>
<rect x="1556" y="431" width="1" height="36" fill="#000"/>
<rect x="1552" y="464" width="9" height="3" fill="#000"/>
<rect x="1553" y="465" width="7" height="1" fill="#fff"/>
<rect x="1567" y="407" width="1" height="56" fill="#000"/>
<rect x="1563" y="429" width="9" height="34" fill="#000"/>
<rect x="1564" y="430" width="7" height="32" fill="#fff"/>
<rect x="1578" y="391" width="1" height="49" fill="#000"/>
<rect x="1574" y="401" width="9" height="34" fill="#000"/>
<rect x="1589" y="452" width="1" height="56" fill="#000"/>
<rect x="1585" y="461" width="9" height="10" fill="#000"/>
<rect x="1600" y="463" width="1" height="80" fill="#000"/>
<rect x="1596" y="474" width="9" height="51" fill="#000"/>
<rect x="1611" y="501" width="1" height="42" fill="#000"/>
<rect x="1607" y="525" width="9" height="5" fill="#000"/>
<rect x="1622" y="479" width="1" height="27" fill="#000"/>
<rect x="1618" y="486" width="9" height="13" fill="#000"/>
<rect x="1633" y="537" width="1" height="37" fill="#000"/>
<rect x="1629" y="549" width="9" height="9" fill="#000"/>
<rect x="1644" y="501" width="1" height="66" fill="#000"/>
<rect x="1640" y="518" width="9" height="38" fill="#000"/>
<rect x="1641" y="519" width="7" height="36" fill="#fff"/>
<rect x="1655" y="463" width="1" height="27" fill="#000"/>
<rect x="1651" y="477" width="9" height="1" fill="#000"/>
<rect x="1666" y="469" width="1" height="26" fill="#000"/>
<rect x="1662" y="471" width="9" height="13" fill="#000"/>
<rect x="1677" y="455" width="1" height="65" fill="#000"/>
<rect x="1673" y="464" width="9" height="49" fill="#000"/>
<rect x="1674" y="465" width="7" height="47" fill="#fff"/>
<rect x="1689" y="452" width="1" height="32" fill="#000"/>
<rect x="1685" y="451" width="9" height="23" fill="#000"/>
<rect x="1686" y="452" width="7" height="21" fill="#fff"/>
<rect x="1700" y="447" width="1" height="66" fill="#000"/>
<rect x="1696" y="463" width="9" height="42" fill="#000"/>
</g>
<g shape-rendering="crispEdges">
<rect x="5" y="71" width="1817" height="2" fill="#0000ff"/>
<rect x="5" y="175" width="1817" height="2" fill="#0000ff"/>
<rect x="5" y="238" width="1817" height="2" fill="#0000ff"/>
<rect x="5" y="320" width="1817" height="2" fill="#0000ff"/>
<rect x="5" y="374" width="1817" height="2" fill="#0000ff"/>
<rect x="5" y="392" width="1817" height="2" fill="#0000ff"/>
<rect x="5" y="454" width="1817" height="2" fill="#0000ff"/>
<rect x="5" y="467" width="1817" height="2" fill="#0000ff"/>
<rect x="5" y="567" width="1817" height="2" fill="#0000ff"/>
</g>
<g clip-path="url(#main)" fill="none" stroke-linecap="square" shape-rendering="crispEdges">
<line x1="5.7" y1="74.2" x2="293.4" y2="31.6" stroke="#ff00ff" stroke-width="2"/>
<line x1="62.3" y1="18.2" x2="1212.7" y2="217.5" stroke="#ff00ff" stroke-width="2"/>
<line x1="5.1" y1="259.7" x2="193.6" y2="292" stroke="#ff00ff" stroke-width="2"/>
<line x1="5.1" y1="281.9" x2="858.5" y2="578.9" stroke="#ff00ff" stroke-width="2"/>
<line x1="481.7" y1="354.2" x2="692" y2="300.5" stroke="#ff00ff" stroke-width="2"/>
<line x1="518.4" y1="454.4" x2="714.1" y2="391.5" stroke="#ff00ff" stroke-width="2"/>
<line x1="869" y1="381.7" x2="969" y2="381.7" stroke="#ff00ff" stroke-width="2"/>
<line x1="902.4" y1="448.9" x2="979.4" y2="386.8" stroke="#ff00ff" stroke-width="2"/>
<line x1="1323.6" y1="210.1" x2="1533.8" y2="252.9" stroke="#ff00ff" stroke-width="2"/>
<line x1="1334.2" y1="271.3" x2="1533.8" y2="229" stroke="#ff00ff" stroke-width="2"/>
<line x1="1378" y1="397" x2="1533.8" y2="257.5" stroke="#ff00ff" stroke-width="2"/>
<path d="M414 172h1v1h-1zM415 173h2v1h-2zM417 174h1v1h-1zM418 175h2v1h-2zM420 176h1v1h-1zM421 177h1v1h-1zM422 178h2v1h-2zM424 179h1v1h-1zM425 180h2v1h-2zM427 181h1v1h-1zM428 182h2v1h-2zM430 183h1v1h-1zM431 184h2v1h-2zM433 185h1v1h-1zM434 186h1v1h-1zM435 187h2v1h-2zM437 188h1v1h-1zM438 189h2v1h-2zM440 190h1v1h-1zM441 191h2v1h-2zM443 192h1v1h-1zM444 193h2v1h-2zM446 194h1v1h-1zM447 195h1v1h-1zM448 196h2v1h-2zM450 197h1v1h-1zM451 198h2v1h-2zM453 199h1v1h-1zM454 200h2v1h-2zM456 201h1v1h-1zM457 202h2v1h-2zM459 203h1v1h-1zM460 204h2v1h-2zM462 205h1v1h-1zM463 206h1v1h-1zM464 207h2v1h-2zM466 208h1v1h-1zM467 209h2v1h-2zM469 210h1v1h-1zM470 211h2v1h-2zM472 212h1v1h-1zM473 213h2v1h-2zM475 214h1v1h-1zM476 215h1v1h-1zM477 216h2v1h-2zM479 217h1v1h-1zM480 218h2v1h-2zM482 219h1v1h-1zM483 220h2v1h-2zM485 221h1v1h-1zM486 222h2v1h-2zM488 223h1v1h-1zM489 224h1v1h-1zM490 225h2v1h-2zM492 226h1v1h-1zM493 227h2v1h-2zM495 228h1v1h-1zM496 229h2v1h-2zM498 230h1v1h-1zM499 231h2v1h-2zM501 232h1v1h-1zM502 233h1v1h-1zM503 234h2v1h-2zM505 235h1v1h-1zM506 236h2v1h-2zM508 237h1v1h-1zM509 238h2v1h-2zM511 239h1v1h-1zM512 240h2v1h-2zM514 241h1v1h-1zM515 242h1v1h-1zM516 243h2v1h-2zM518 244h1v1h-1zM519 245h2v1h-2zM521 246h1v1h-1zM522 247h2v1h-2zM524 248h1v1h-1zM525 249h2v1h-2zM527 250h1v1h-1zM528 251h1v1h-1zM529 252h2v1h-2zM531 253h1v1h-1zM532 254h2v1h-2zM534 255h1v1h-1zM535 256h2v1h-2zM537 257h1v1h-1zM538 258h2v1h-2zM540 259h1v1h-1zM541 260h2v1h-2zM543 261h1v1h-1zM544 262h1v1h-1zM545 263h2v1h-2zM547 264h1v1h-1zM548 265h2v1h-2zM550 266h1v1h-1zM551 267h2v1h-2zM553 268h1v1h-1zM554 269h2v1h-2zM556 270h1v1h-1zM557 271h1v1h-1zM558 272h2v1h-2zM560 273h1v1h-1zM561 274h2v1h-2zM563 275h1v1h-1zM564 276h2v1h-2zM566 277h1v1h-1zM567 278h2v1h-2zM569 279h1v1h-1zM570 280h1v1h-1zM571 281h2v1h-2zM573 282h1v1h-1zM574 283h2v1h-2zM576 284h1v1h-1zM577 285h2v1h-2zM579 286h1v1h-1zM580 287h2v1h-2zM582 288h1v1h-1zM583 289h1v1h-1zM584 290h2v1h-2zM586 291h1v1h-1zM587 292h2v1h-2zM589 293h1v1h-1zM590 294h2v1h-2zM592 295h1v1h-1zM593 296h2v1h-2zM595 297h1v1h-1zM596 298h1v1h-1zM597 299h2v1h-2zM599 300h1v1h-1zM600 301h2v1h-2zM602 302h1v1h-1zM603 303h2v1h-2zM605 304h1v1h-1zM606 305h2v1h-2zM608 306h1v1h-1zM609 307h1v1h-1zM610 308h2v1h-2zM612 309h1v1h-1zM613 310h2v1h-2zM615 311h1v1h-1zM616 312h2v1h-2zM618 313h1v1h-1zM619 314h2v1h-2zM621 315h1v1h-1zM622 316h2v1h-2zM624 317h1v1h-1zM625 318h1v1h-1zM626 319h2v1h-2zM628 320h1v1h-1zM629 321h2v1h-2zM631 322h1v1h-1zM632 323h2v1h-2zM634 324h1v1h-1zM635 325h2v1h-2zM637 326h1v1h-1zM638 327h1v1h-1zM639 328h2v1h-2zM641 329h1v1h-1zM642 330h2v1h-2zM644 331h1v1h-1zM645 332h2v1h-2zM647 333h1v1h-1zM648 334h2v1h-2zM650 335h1v1h-1zM651 336h1v1h-1zM652 337h2v1h-2zM654 338h1v1h-1zM655 339h2v1h-2zM657 340h1v1h-1zM658 341h2v1h-2zM660 342h1v1h-1zM661 343h2v1h-2zM663 344h1v1h-1zM664 345h1v1h-1zM665 346h2v1h-2zM667 347h1v1h-1zM668 348h2v1h-2zM670 349h1v1h-1zM671 350h2v1h-2zM673 351h1v1h-1zM674 352h2v1h-2zM676 353h1v1h-1zM677 354h1v1h-1zM678 355h2v1h-2zM680 356h1v1h-1zM681 357h2v1h-2zM683 358h1v1h-1zM684 359h2v1h-2zM686 360h1v1h-1zM687 361h2v1h-2zM689 362h1v1h-1zM690 363h1v1h-1zM691 364h2v1h-2zM693 365h1v1h-1zM694 366h2v1h-2zM696 367h1v1h-1zM697 368h2v1h-2zM699 369h1v1h-1zM700 370h2v1h-2zM702 371h1v1h-1zM703 372h2v1h-2zM705 373h1v1h-1zM706 374h1v1h-1zM707 375h2v1h-2zM709 376h1v1h-1zM710 377h2v1h-2zM712 378h1v1h-1zM713 379h2v1h-2zM715 380h1v1h-1zM716 381h2v1h-2zM718 382h1v1h-1zM719 383h1v1h-1zM720 384h2v1h-2zM722 385h1v1h-1zM723 386h2v1h-2zM725 387h1v1h-1zM726 388h2v1h-2zM728 389h1v1h-1zM729 390h2v1h-2zM731 391h1v1h-1zM732 392h1v1h-1zM733 393h2v1h-2zM735 394h1v1h-1zM736 395h2v1h-2zM738 396h1v1h-1zM739 397h2v1h-2zM741 398h1v1h-1zM742 399h2v1h-2zM744 400h1v1h-1zM745 401h1v1h-1zM746 402h2v1h-2zM748 403h1v1h-1zM749 404h2v1h-2zM751 405h1v1h-1zM752 406h2v1h-2zM754 407h1v1h-1zM755 408h2v1h-2zM757 409h1v1h-1zM758 410h1v1h-1zM759 411h2v1h-2zM761 412h1v1h-1zM762 413h2v1h-2zM764 414h1v1h-1zM765 415h2v1h-2zM767 416h1v1h-1zM768 417h2v1h-2zM770 418h1v1h-1zM771 419h1v1h-1zM772 420h2v1h-2zM774 421h1v1h-1zM775 422h2v1h-2zM777 423h1v1h-1zM778 424h2v1h-2zM780 425h1v1h-1zM781 426h2v1h-2zM783 427h1v1h-1zM784 428h2v1h-2zM786 429h1v1h-1zM787 430h1v1h-1zM788 431h2v1h-2zM790 432h1v1h-1zM791 433h2v1h-2zM793 434h1v1h-1zM794 435h2v1h-2zM796 436h1v1h-1zM797 437h2v1h-2zM799 438h1v1h-1zM800 439h1v1h-1zM801 440h2v1h-2zM803 441h1v1h-1zM804 442h2v1h-2zM806 443h1v1h-1zM807 444h2v1h-2zM809 445h1v1h-1zM810 446h2v1h-2zM812 447h1v1h-1zM813 448h1v1h-1zM814 449h2v1h-2zM816 450h1v1h-1zM817 451h2v1h-2zM819 452h1v1h-1zM820 453h2v1h-2zM822 454h1v1h-1zM823 455h2v1h-2zM825 456h1v1h-1zM826 457h1v1h-1zM827 458h2v1h-2zM829 459h1v1h-1zM830 460h2v1h-2zM832 461h1v1h-1zM833 462h2v1h-2zM835 463h1v1h-1zM836 464h2v1h-2zM838 465h1v1h-1zM839 466h1v1h-1zM840 467h2v1h-2zM842 468h1v1h-1zM843 469h2v1h-2zM845 470h1v1h-1zM846 471h2v1h-2zM848 472h1v1h-1zM849 473h2v1h-2zM851 474h1v1h-1zM852 475h1v1h-1zM853 476h2v1h-2zM855 477h1v1h-1zM856 478h2v1h-2zM858 479h1v1h-1zM859 480h2v1h-2zM861 481h1v1h-1zM862 482h2v1h-2zM864 483h1v1h-1zM865 484h2v1h-2zM867 485h1v1h-1zM868 486h1v1h-1zM869 487h2v1h-2zM871 488h1v1h-1zM872 489h2v1h-2zM874 490h1v1h-1zM875 491h2v1h-2zM877 492h1v1h-1zM878 493h2v1h-2zM880 494h1v1h-1zM881 495h1v1h-1zM882 496h2v1h-2zM884 497h1v1h-1zM885 498h2v1h-2zM887 499h1v1h-1zM888 500h2v1h-2zM890 501h1v1h-1zM891 502h2v1h-2zM893 503h1v1h-1zM894 504h1v1h-1zM895 505h2v1h-2zM897 506h1v1h-1zM898 507h2v1h-2zM900 508h1v1h-1z" fill="#ff0000" stroke="none"/>
<line x1="645.5" y1="373.3" x2="1356.4" y2="80.9" stroke="#008000" stroke-width="2"/>
<line x1="780.8" y1="571.8" x2="1389.1" y2="97" stroke="#008000" stroke-width="2"/>
</g>
<g clip-path="url(#mp)" shape-rendering="crispEdges">
<rect x="5" y="658" width="1" height="9" fill="#000"/>
<rect x="16" y="656" width="1" height="11" fill="#000"/>
<rect x="27" y="655" width="1" height="12" fill="#000"/>
<rect x="38" y="654" width="1" height="13" fill="#000"/>
<rect x="49" y="660" width="1" height="7" fill="#000"/>
<rect x="60" y="666" width="1" height="1" fill="#000"/>
<rect x="71" y="666" width="1" height="1" fill="#000"/>
<rect x="82" y="667" width="1" height="1" fill="#000"/>
<rect x="93" y="667" width="1" height="2" fill="#000"/>
<rect x="104" y="667" width="1" height="5" fill="#000"/>
<rect x="115" y="667" width="1" height="9" fill="#000"/>
<rect x="126" y="667" width="1" height="10" fill="#000"/>
<rect x="137" y="667" width="1" height="7" fill="#000"/>
<rect x="160" y="659" width="1" height="8" fill="#000"/>
<rect x="171" y="655" width="1" height="12" fill="#000"/>
<rect x="182" y="652" width="1" height="15" fill="#000"/>
<rect x="193" y="648" width="1" height="19" fill="#000"/>
<rect x="204" y="647" width="1" height="20" fill="#000"/>
<rect x="215" y="647" width="1" height="20" fill="#000"/>
<rect x="226" y="650" width="1" height="17" fill="#000"/>
<rect x="237" y="654" width="1" height="13" fill="#000"/>
<rect x="248" y="657" width="1" height="10" fill="#000"/>
<rect x="259" y="662" width="1" height="5" fill="#000"/>
<rect x="270" y="667" width="1" height="3" fill="#000"/>
<rect x="282" y="667" width="1" height="6" fill="#000"/>
<rect x="293" y="667" width="1" height="7" fill="#000"/>
<rect x="304" y="667" width="1" height="7" fill="#000"/>
<rect x="315" y="667" width="1" height="6" fill="#000"/>
<rect x="326" y="667" width="1" height="3" fill="#000"/>
<rect x="337" y="667" width="1" height="1" fill="#000"/>
<rect x="348" y="664" width="1" height="3" fill="#000"/>
<rect x="359" y="663" width="1" height="4" fill="#000"/>
<rect x="370" y="663" width="1" height="4" fill="#000"/>
<rect x="381" y="662" width="1" height="5" fill="#000"/>
<rect x="403" y="667" width="1" height="8" fill="#000"/>
<rect x="414" y="667" width="1" height="11" fill="#000"/>
<rect x="426" y="667" width="1" height="13" fill="#000"/>
<rect x="437" y="667" width="1" height="14" fill="#000"/>
<rect x="448" y="667" width="1" height="15" fill="#000"/>
<rect x="459" y="667" width="1" height="18" fill="#000"/>
<rect x="470" y="667" width="1" height="22" fill="#000"/>
<rect x="481" y="667" width="1" height="28" fill="#000"/>
<rect x="492" y="667" width="1" height="37" fill="#000"/>
<rect x="503" y="667" width="1" height="33" fill="#000"/>
<rect x="514" y="667" width="1" height="31" fill="#000"/>
<rect x="525" y="667" width="1" height="22" fill="#000"/>
<rect x="536" y="667" width="1" height="16" fill="#000"/>
<rect x="547" y="667" width="1" height="11" fill="#000"/>
<rect x="558" y="667" width="1" height="11" fill="#000"/>
<rect x="570" y="667" width="1" height="9" fill="#000"/>
<rect x="581" y="667" width="1" height="3" fill="#000"/>
<rect x="592" y="667" width="1" height="2" fill="#000"/>
<rect x="614" y="663" width="1" height="4" fill="#000"/>
<rect x="625" y="659" width="1" height="8" fill="#000"/>
<rect x="636" y="658" width="1" height="9" fill="#000"/>
<rect x="647" y="659" width="1" height="8" fill="#000"/>
<rect x="658" y="659" width="1" height="8" fill="#000"/>
<rect x="669" y="658" width="1" height="9" fill="#000"/>
<rect x="680" y="657" width="1" height="10" fill="#000"/>
<rect x="691" y="657" width="1" height="10" fill="#000"/>
<rect x="703" y="661" width="1" height="6" fill="#000"/>
<rect x="714" y="663" width="1" height="4" fill="#000"/>
<rect x="725" y="667" width="1" height="3" fill="#000"/>
<rect x="736" y="667" width="1" height="6" fill="#000"/>
<rect x="747" y="667" width="1" height="9" fill="#000"/>
<rect x="758" y="667" width="1" height="7" fill="#000"/>
<rect x="769" y="667" width="1" height="8" fill="#000"/>
<rect x="780" y="667" width="1" height="8" fill="#000"/>
<rect x="791" y="667" width="1" height="4" fill="#000"/>
<rect x="802" y="667" width="1" height="3" fill="#000"/>
<rect x="813" y="667" width="1" height="1" fill="#000"/>
<rect x="824" y="663" width="1" height="4" fill="#000"/>
<rect x="835" y="658" width="1" height="9" fill="#000"/>
<rect x="847" y="654" width="1" height="13" fill="#000"/>
<rect x="858" y="651" width="1" height="16" fill="#000"/>
<rect x="869" y="648" width="1" height="19" fill="#000"/>
<rect x="880" y="647" width="1" height="20" fill="#000"/>
<rect x="891" y="648" width="1" height="19" fill="#000"/>
<rect x="902" y="651" width="1" height="16" fill="#000"/>
<rect x="913" y="652" width="1" height="15" fill="#000"/>
<rect x="924" y="652" width="1" height="15" fill="#000"/>
<rect x="935" y="652" width="1" height="15" fill="#000"/>
<rect x="946" y="653" width="1" height="14" fill="#000"/>
<rect x="957" y="653" width="1" height="14" fill="#000"/>
<rect x="968" y="650" width="1" height="17" fill="#000"/>
<rect x="979" y="645" width="1" height="22" fill="#000"/>
<rect x="991" y="642" width="1" height="25" fill="#000"/>
<rect x="1002" y="644" width="1" height="23" fill="#000"/>
<rect x="1013" y="644" width="1" height="23" fill="#000"/>
<rect x="1024" y="646" width="1" height="21" fill="#000"/>
<rect x="1035" y="648" width="1" height="19" fill="#000"/>
<rect x="1046" y="649" width="1" height="18" fill="#000"/>
<rect x="1057" y="651" width="1" height="16" fill="#000"/>
<rect x="1068" y="655" width="1" height="12" fill="#000"/>
<rect x="1079" y="658" width="1" height="9" fill="#000"/>
<rect x="1090" y="659" width="1" height="8" fill="#000"/>
<rect x="1101" y="663" width="1" height="4" fill="#000"/>
<rect x="1112" y="666" width="1" height="1" fill="#000"/>
<rect x="1124" y="667" width="1" height="1" fill="#000"/>
<rect x="1135" y="667" width="1" height="4" fill="#000"/>
<rect x="1146" y="667" width="1" height="7" fill="#000"/>
<rect x="1157" y="667" width="1" height="9" fill="#000"/>
<rect x="1168" y="667" width="1" height="6" fill="#000"/>
<rect x="1179" y="667" width="1" height="5" fill="#000"/>
<rect x="1190" y="667" width="1" height="3" fill="#000"/>
<rect x="1201" y="667" width="1" height="1" fill="#000"/>
<rect x="1223" y="667" width="1" height="3" fill="#000"/>
<rect x="1234" y="667" width="1" height="1" fill="#000"/>
<rect x="1245" y="665" width="1" height="2" fill="#000"/>
<rect x="1256" y="664" width="1" height="3" fill="#000"/>
<rect x="1268" y="663" width="1" height="4" fill="#000"/>
<rect x="1279" y="665" width="1" height="2" fill="#000"/>
<rect x="1301" y="667" width="1" height="8" fill="#000"/>
<rect x="1312" y="667" width="1" height="13" fill="#000"/>
<rect x="1323" y="667" width="1" height="14" fill="#000"/>
<rect x="1334" y="667" width="1" height="17" fill="#000"/>
<rect x="1345" y="667" width="1" height="20" fill="#000"/>
<rect x="1356" y="667" width="1" height="21" fill="#000"/>
<rect x="1367" y="667" width="1" height="24" fill="#000"/>
<rect x="1378" y="667" width="1" height="28" fill="#000"/>
<rect x="1389" y="667" width="1" height="24" fill="#000"/>
<rect x="1400" y="667" width="1" height="21" fill="#000"/>
<rect x="1412" y="667" width="1" height="13" fill="#000"/>
<rect x="1423" y="667" width="1" height="10" fill="#000"/>
<rect x="1434" y="667" width="1" height="9" fill="#000"/>
<rect x="1445" y="667" width="1" height="8" fill="#000"/>
<rect x="1456" y="667" width="1" height="3" fill="#000"/>
<rect x="1467" y="667" width="1" height="1" fill="#000"/>
<rect x="1478" y="664" width="1" height="3" fill="#000"/>
<rect x="1489" y="663" width="1" height="4" fill="#000"/>
<rect x="1500" y="667" width="1" height="2" fill="#000"/>
<rect x="1511" y="667" width="1" height="5" fill="#000"/>
<rect x="1522" y="667" width="1" height="8" fill="#000"/>
<rect x="1533" y="667" width="1" height="13" fill="#000"/>
<rect x="1545" y="667" width="1" height="17" fill="#000"/>
<rect x="1556" y="667" width="1" height="18" fill="#000"/>
<rect x="1567" y="667" width="1" height="16" fill="#000"/>
<rect x="1578" y="667" width="1" height="14" fill="#000"/>
<rect x="1589" y="667" width="1" height="14" fill="#000"/>
<rect x="1600" y="667" width="1" height="16" fill="#000"/>
<rect x="1611" y="667" width="1" height="17" fill="#000"/>
<rect x="1622" y="667" width="1" height="14" fill="#000"/>
<rect x="1633" y="667" width="1" height="15" fill="#000"/>
<rect x="1644" y="667" width="1" height="12" fill="#000"/>
<rect x="1655" y="667" width="1" height="6" fill="#000"/>
<rect x="1666" y="667" width="1" height="2" fill="#000"/>
<rect x="1677" y="664" width="1" height="3" fill="#000"/>
<rect x="1689" y="660" width="1" height="7" fill="#000"/>
<rect x="1700" y="661" width="1" height="6" fill="#000"/>
<path d="M5 695h3v1h-3zM8 694h6v1h-6zM14 693h2v1h-2zM16 693h2v1h-2zM18 692h3v1h-3zM21 691h2v1h-2zM23 690h3v1h-3zM26 689h1v1h-1zM27 689h2v1h-2zM29 688h4v1h-4zM33 687h4v1h-4zM37 686h1v1h-1zM38 686h3v1h-3zM41 685h6v1h-6zM47 684h2v1h-2zM49 684h11v1h-11zM60 684h11v1h-11zM71 684h11v1h-11zM82 684h11v1h-11zM93 684h6v1h-6zM99 685h5v1h-5zM104 685h3v1h-3zM107 686h6v1h-6zM113 687h2v1h-2zM115 687h2v1h-2zM117 688h4v1h-4zM121 689h4v1h-4zM125 690h1v1h-1zM126 690h3v1h-3zM129 691h6v1h-6zM135 692h2v1h-2zM137 692h6v1h-6zM143 691h6v1h-6zM149 691h3v1h-3zM152 690h6v1h-6zM158 689h2v1h-2zM160 689h2v1h-2zM162 688h4v1h-4zM166 687h4v1h-4zM170 686h1v1h-1zM171 686h2v1h-2zM173 685h3v1h-3zM176 684h2v1h-2zM178 683h3v1h-3zM181 682h1v1h-1zM182 682h2v1h-2zM184 681h2v1h-2zM186 680h2v1h-2zM188 679h2v1h-2zM190 678h2v1h-2zM192 677h1v1h-1zM193 677h2v1h-2zM195 676h2v1h-2zM197 675h2v1h-2zM199 674h2v1h-2zM201 673h2v1h-2zM203 672h1v1h-1zM204 672h2v1h-2zM206 671h2v1h-2zM208 670h2v1h-2zM210 669h2v1h-2zM212 668h2v1h-2zM214 667h1v1h-1zM215 667h2v1h-2zM217 666h3v1h-3zM220 665h2v1h-2zM222 664h3v1h-3zM225 663h1v1h-1zM226 663h2v1h-2zM228 662h3v1h-3zM231 661h2v1h-2zM233 660h3v1h-3zM236 659h1v1h-1zM237 659h3v1h-3zM240 658h6v1h-6zM246 657h2v1h-2zM248 657h6v1h-6zM254 656h5v1h-5zM259 656h11v1h-11zM270 656h3v1h-3zM273 657h6v1h-6zM279 658h3v1h-3zM282 658h6v1h-6zM288 659h5v1h-5zM293 659h3v1h-3zM296 660h6v1h-6zM302 661h2v1h-2zM304 661h6v1h-6zM310 662h5v1h-5zM315 662h6v1h-6zM321 663h5v1h-5zM326 663h11v1h-11zM337 663h6v1h-6zM343 662h5v1h-5zM348 662h6v1h-6zM354 661h5v1h-5zM359 661h6v1h-6zM365 660h5v1h-5zM370 660h6v1h-6zM376 659h5v1h-5zM381 659h11v1h-11zM392 659h3v1h-3zM395 660h6v1h-6zM401 661h2v1h-2zM403 661h3v1h-3zM406 662h6v1h-6zM412 663h2v1h-2zM414 663h2v1h-2zM416 664h4v1h-4zM420 665h4v1h-4zM424 666h2v1h-2zM426 666h2v1h-2zM428 667h3v1h-3zM431 668h2v1h-2zM433 669h3v1h-3zM436 670h1v1h-1zM437 670h2v1h-2zM439 671h3v1h-3zM442 672h2v1h-2zM444 673h3v1h-3zM447 674h1v1h-1zM448 674h2v1h-2zM450 675h3v1h-3zM453 676h2v1h-2zM455 677h3v1h-3zM458 678h1v1h-1zM459 678h2v1h-2zM461 679h2v1h-2zM463 680h2v1h-2zM465 681h2v1h-2zM467 682h2v1h-2zM469 683h1v1h-1zM470 683h1v1h-1zM471 684h2v1h-2zM473 685h1v1h-1zM474 686h2v1h-2zM476 687h2v1h-2zM478 688h1v1h-1zM479 689h2v1h-2zM481 690h1v1h-1zM482 691h1v1h-1zM483 692h2v1h-2zM485 693h1v1h-1zM486 694h1v1h-1zM487 695h1v1h-1zM488 696h1v1h-1zM489 697h2v1h-2zM491 698h1v1h-1zM492 699h1v1h-1zM493 700h2v1h-2zM495 701h1v1h-1zM496 702h1v1h-1zM497 703h2v1h-2zM499 704h1v1h-1zM500 705h1v1h-1zM501 706h2v1h-2zM503 707h1v1h-1zM504 708h2v1h-2zM506 709h1v1h-1zM507 710h1v1h-1zM508 711h2v1h-2zM510 712h1v1h-1zM511 713h1v1h-1zM512 714h2v1h-2zM514 715h2v1h-2zM516 716h2v1h-2zM518 717h2v1h-2zM520 718h2v1h-2zM522 719h2v1h-2zM524 720h1v1h-1zM525 720h2v1h-2zM527 721h3v1h-3zM530 722h2v1h-2zM532 723h3v1h-3zM535 724h1v1h-1zM536 724h2v1h-2zM538 725h4v1h-4zM542 726h4v1h-4zM546 727h1v1h-1zM547 727h3v1h-3zM550 728h6v1h-6zM556 729h2v1h-2zM558 729h3v1h-3zM561 730h6v1h-6zM567 731h3v1h-3zM570 731h6v1h-6zM576 732h5v1h-5zM581 732h11v1h-11zM592 732h11v1h-11zM603 732h6v1h-6zM609 731h5v1h-5zM614 731h3v1h-3zM617 730h6v1h-6zM623 729h2v1h-2zM625 729h3v1h-3zM628 728h6v1h-6zM634 727h2v1h-2zM636 727h3v1h-3zM639 726h6v1h-6zM645 725h2v1h-2zM647 725h3v1h-3zM650 724h6v1h-6zM656 723h2v1h-2zM658 723h3v1h-3zM661 722h6v1h-6zM667 721h2v1h-2zM669 721h2v1h-2zM671 720h4v1h-4zM675 719h4v1h-4zM679 718h1v1h-1zM680 718h2v1h-2zM682 717h4v1h-4zM686 716h4v1h-4zM690 715h1v1h-1zM691 715h6v1h-6zM697 714h6v1h-6zM703 714h6v1h-6zM709 713h5v1h-5zM714 713h11v1h-11zM725 713h6v1h-6zM731 714h5v1h-5zM736 714h2v1h-2zM738 715h4v1h-4zM742 716h4v1h-4zM746 717h1v1h-1zM747 717h6v1h-6zM753 718h5v1h-5zM758 718h3v1h-3zM761 719h6v1h-6zM767 720h2v1h-2zM769 720h3v1h-3zM772 721h6v1h-6zM778 722h2v1h-2zM780 722h6v1h-6zM786 723h5v1h-5zM791 723h11v1h-11zM802 723h6v1h-6zM808 724h5v1h-5zM813 724h3v1h-3zM816 723h6v1h-6zM822 722h2v1h-2zM824 722h3v1h-3zM827 721h6v1h-6zM833 720h2v1h-2zM835 720h2v1h-2zM837 719h4v1h-4zM841 718h4v1h-4zM845 717h2v1h-2zM847 717h2v1h-2zM849 716h3v1h-3zM852 715h2v1h-2zM854 714h3v1h-3zM857 713h1v1h-1zM858 713h2v1h-2zM860 712h2v1h-2zM862 711h2v1h-2zM864 710h2v1h-2zM866 709h2v1h-2zM868 708h1v1h-1zM869 708h2v1h-2zM871 707h2v1h-2zM873 706h2v1h-2zM875 705h2v1h-2zM877 704h2v1h-2zM879 703h1v1h-1zM880 703h2v1h-2zM882 702h2v1h-2zM884 701h2v1h-2zM886 700h2v1h-2zM888 699h2v1h-2zM890 698h1v1h-1zM891 698h2v1h-2zM893 697h3v1h-3zM896 696h2v1h-2zM898 695h3v1h-3zM901 694h1v1h-1zM902 694h2v1h-2zM904 693h3v1h-3zM907 692h2v1h-2zM909 691h3v1h-3zM912 690h1v1h-1zM913 690h2v1h-2zM915 689h3v1h-3zM918 688h2v1h-2zM920 687h3v1h-3zM923 686h1v1h-1zM924 686h2v1h-2zM926 685h3v1h-3zM929 684h2v1h-2zM931 683h3v1h-3zM934 682h1v1h-1zM935 682h2v1h-2zM937 681h4v1h-4zM941 680h4v1h-4zM945 679h1v1h-1zM946 679h2v1h-2zM948 678h3v1h-3zM951 677h2v1h-2zM953 676h3v1h-3zM956 675h1v1h-1zM957 675h2v1h-2zM959 674h3v1h-3zM962 673h2v1h-2zM964 672h3v1h-3zM967 671h1v1h-1zM968 671h1v1h-1zM969 670h2v1h-2zM971 669h2v1h-2zM973 668h2v1h-2zM975 667h2v1h-2zM977 666h2v1h-2zM979 665h1v1h-1zM980 664h2v1h-2zM982 663h2v1h-2zM984 662h2v1h-2zM986 661h2v1h-2zM988 660h2v1h-2zM990 659h1v1h-1zM991 659h1v1h-1zM992 658h2v1h-2zM994 657h2v1h-2zM996 656h2v1h-2zM998 655h2v1h-2zM1000 654h2v1h-2zM1002 653h1v1h-1zM1003 652h2v1h-2zM1005 651h2v1h-2zM1007 650h2v1h-2zM1009 649h2v1h-2zM1011 648h2v1h-2zM1013 647h2v1h-2zM1015 646h2v1h-2zM1017 645h2v1h-2zM1019 644h2v1h-2zM1021 643h2v1h-2zM1023 642h1v1h-1zM1024 642h2v1h-2zM1026 641h2v1h-2zM1028 640h2v1h-2zM1030 639h2v1h-2zM1032 638h2v1h-2zM1034 637h1v1h-1zM1035 637h2v1h-2zM1037 636h3v1h-3zM1040 635h2v1h-2zM1042 634h3v1h-3zM1045 633h1v1h-1zM1046 633h2v1h-2zM1048 632h3v1h-3zM1051 631h2v1h-2zM1053 630h3v1h-3zM1056 629h1v1h-1zM1057 629h2v1h-2zM1059 628h4v1h-4zM1063 627h4v1h-4zM1067 626h1v1h-1zM1068 626h2v1h-2zM1070 625h4v1h-4zM1074 624h4v1h-4zM1078 623h1v1h-1zM1079 623h3v1h-3zM1082 622h6v1h-6zM1088 621h2v1h-2zM1090 621h6v1h-6zM1096 620h5v1h-5zM1101 620h11v1h-11zM1112 620h12v1h-12zM1124 620h6v1h-6zM1130 621h5v1h-5zM1135 621h6v1h-6zM1141 622h5v1h-5zM1146 622h3v1h-3zM1149 623h6v1h-6zM1155 624h2v1h-2zM1157 624h3v1h-3zM1160 625h6v1h-6zM1166 626h2v1h-2zM1168 626h6v1h-6zM1174 627h5v1h-5zM1179 627h6v1h-6zM1185 628h5v1h-5zM1190 628h11v1h-11zM1201 628h11v1h-11zM1212 628h11v1h-11zM1223 628h11v1h-11zM1234 628h11v1h-11zM1245 628h6v1h-6zM1251 627h5v1h-5zM1256 627h6v1h-6zM1262 626h6v1h-6zM1268 626h6v1h-6zM1274 625h5v1h-5zM1279 625h11v1h-11zM1290 625h3v1h-3zM1293 626h6v1h-6zM1299 627h2v1h-2zM1301 627h2v1h-2zM1303 628h4v1h-4zM1307 629h4v1h-4zM1311 630h1v1h-1zM1312 630h2v1h-2zM1314 631h3v1h-3zM1317 632h2v1h-2zM1319 633h3v1h-3zM1322 634h1v1h-1zM1323 634h2v1h-2zM1325 635h3v1h-3zM1328 636h2v1h-2zM1330 637h3v1h-3zM1333 638h1v1h-1zM1334 638h2v1h-2zM1336 639h2v1h-2zM1338 640h2v1h-2zM1340 641h2v1h-2zM1342 642h2v1h-2zM1344 643h1v1h-1zM1345 643h2v1h-2zM1347 644h2v1h-2zM1349 645h2v1h-2zM1351 646h2v1h-2zM1353 647h2v1h-2zM1355 648h1v1h-1zM1356 648h1v1h-1zM1357 649h2v1h-2zM1359 650h2v1h-2zM1361 651h2v1h-2zM1363 652h2v1h-2zM1365 653h2v1h-2zM1367 654h1v1h-1zM1368 655h2v1h-2zM1370 656h1v1h-1zM1371 657h2v1h-2zM1373 658h2v1h-2zM1375 659h1v1h-1zM1376 660h2v1h-2zM1378 661h1v1h-1zM1379 662h2v1h-2zM1381 663h2v1h-2zM1383 664h2v1h-2zM1385 665h2v1h-2zM1387 666h2v1h-2zM1389 667h2v1h-2zM1391 668h2v1h-2zM1393 669h2v1h-2zM1395 670h2v1h-2zM1397 671h2v1h-2zM1399 672h1v1h-1zM1400 672h2v1h-2zM1402 673h4v1h-4zM1406 674h4v1h-4zM1410 675h2v1h-2zM1412 675h3v1h-3zM1415 676h6v1h-6zM1421 677h2v1h-2zM1423 677h3v1h-3zM1426 678h6v1h-6zM1432 679h2v1h-2zM1434 679h3v1h-3zM1437 680h6v1h-6zM1443 681h2v1h-2zM1445 681h6v1h-6zM1451 682h5v1h-5zM1456 682h11v1h-11zM1467 682h6v1h-6zM1473 681h5v1h-5zM1478 681h6v1h-6zM1484 680h5v1h-5zM1489 680h11v1h-11zM1500 680h6v1h-6zM1506 681h5v1h-5zM1511 681h3v1h-3zM1514 682h6v1h-6zM1520 683h2v1h-2zM1522 683h2v1h-2zM1524 684h4v1h-4zM1528 685h4v1h-4zM1532 686h1v1h-1zM1533 686h2v1h-2zM1535 687h3v1h-3zM1538 688h3v1h-3zM1541 689h3v1h-3zM1544 690h1v1h-1zM1545 690h2v1h-2zM1547 691h2v1h-2zM1549 692h2v1h-2zM1551 693h2v1h-2zM1553 694h2v1h-2zM1555 695h1v1h-1zM1556 695h2v1h-2zM1558 696h3v1h-3zM1561 697h2v1h-2zM1563 698h3v1h-3zM1566 699h1v1h-1zM1567 699h2v1h-2zM1569 700h4v1h-4zM1573 701h4v1h-4zM1577 702h1v1h-1zM1578 702h2v1h-2zM1580 703h4v1h-4zM1584 704h4v1h-4zM1588 705h1v1h-1zM1589 705h2v1h-2zM1591 706h3v1h-3zM1594 707h2v1h-2zM1596 708h3v1h-3zM1599 709h1v1h-1zM1600 709h2v1h-2zM1602 710h3v1h-3zM1605 711h2v1h-2zM1607 712h3v1h-3zM1610 713h1v1h-1zM1611 713h2v1h-2zM1613 714h3v1h-3zM1616 715h2v1h-2zM1618 716h3v1h-3zM1621 717h1v1h-1zM1622 717h2v1h-2zM1624 718h4v1h-4zM1628 719h4v1h-4zM1632 720h1v1h-1zM1633 720h2v1h-2zM1635 721h4v1h-4zM1639 722h4v1h-4zM1643 723h1v1h-1zM1644 723h3v1h-3zM1647 724h6v1h-6zM1653 725h2v1h-2zM1655 725h11v1h-11zM1666 725h6v1h-6zM1672 724h5v1h-5zM1677 724h3v1h-3zM1680 723h6v1h-6zM1686 722h3v1h-3zM1689 722h6v1h-6zM1695 721h6v1h-6z" fill="#0000ff"/>
<path d="M5 686h2v1h-2zM7 685h2v1h-2zM9 684h2v1h-2zM11 683h2v1h-2zM13 682h2v1h-2zM15 681h1v1h-1zM16 681h2v1h-2zM18 680h3v1h-3zM21 679h2v1h-2zM23 678h3v1h-3zM26 677h1v1h-1zM27 677h2v1h-2zM29 676h3v1h-3zM32 675h2v1h-2zM34 674h3v1h-3zM37 673h1v1h-1zM38 673h2v1h-2zM40 674h3v1h-3zM43 675h2v1h-2zM45 676h3v1h-3zM48 677h1v1h-1zM49 677h1v1h-1zM50 678h2v1h-2zM52 679h2v1h-2zM54 680h2v1h-2zM56 681h2v1h-2zM58 682h2v1h-2zM60 683h11v1h-11zM71 683h6v1h-6zM77 684h5v1h-5zM82 684h3v1h-3zM85 685h6v1h-6zM91 686h2v1h-2zM93 686h2v1h-2zM95 687h3v1h-3zM98 688h2v1h-2zM100 689h3v1h-3zM103 690h1v1h-1zM104 690h1v1h-1zM105 691h2v1h-2zM107 692h2v1h-2zM109 693h2v1h-2zM111 694h2v1h-2zM113 695h2v1h-2zM115 696h2v1h-2zM117 697h3v1h-3zM120 698h2v1h-2zM122 699h3v1h-3zM125 700h1v1h-1zM126 700h3v1h-3zM129 699h6v1h-6zM135 698h2v1h-2zM137 698h1v1h-1zM138 697h2v1h-2zM140 696h1v1h-1zM141 695h2v1h-2zM143 694h1v1h-1zM144 693h2v1h-2zM146 692h1v1h-1zM147 691h2v1h-2zM149 690h1v1h-1zM150 689h1v1h-1zM151 688h2v1h-2zM153 687h1v1h-1zM154 686h1v1h-1zM155 685h1v1h-1zM156 684h1v1h-1zM157 683h2v1h-2zM159 682h1v1h-1zM160 681h1v1h-1zM161 680h2v1h-2zM163 679h1v1h-1zM164 678h1v1h-1zM165 677h2v1h-2zM167 676h1v1h-1zM168 675h1v1h-1zM169 674h2v1h-2zM171 673h1v1h-1zM172 672h2v1h-2zM174 671h1v1h-1zM175 670h2v1h-2zM177 669h2v1h-2zM179 668h1v1h-1zM180 667h2v1h-2zM182 666h1v1h-1zM183 665h2v1h-2zM185 664h1v1h-1zM186 663h1v1h-1zM187 662h2v1h-2zM189 661h1v1h-1zM190 660h1v1h-1zM191 659h2v1h-2zM193 658h1v1h-1zM194 657h2v1h-2zM196 656h2v1h-2zM198 655h2v1h-2zM200 654h2v1h-2zM202 653h2v1h-2zM204 652h2v1h-2zM206 651h2v1h-2zM208 650h2v1h-2zM210 649h2v1h-2zM212 648h2v1h-2zM214 647h1v1h-1zM215 647h3v1h-3zM218 646h6v1h-6zM224 645h2v1h-2zM226 645h6v1h-6zM232 646h5v1h-5zM237 646h6v1h-6zM243 647h5v1h-5zM248 647h2v1h-2zM250 648h4v1h-4zM254 649h4v1h-4zM258 650h1v1h-1zM259 650h1v1h-1zM260 651h1v1h-1zM261 652h2v1h-2zM263 653h1v1h-1zM264 654h1v1h-1zM265 655h1v1h-1zM266 656h1v1h-1zM267 657h2v1h-2zM269 658h1v1h-1zM270 659h2v1h-2zM272 660h3v1h-3zM275 661h3v1h-3zM278 662h3v1h-3zM281 663h1v1h-1zM282 663h2v1h-2zM284 664h4v1h-4zM288 665h4v1h-4zM292 666h1v1h-1zM293 666h3v1h-3zM296 667h6v1h-6zM302 668h2v1h-2zM304 668h11v1h-11zM315 668h3v1h-3zM318 667h6v1h-6zM324 666h2v1h-2zM326 666h3v1h-3zM329 665h6v1h-6zM335 664h2v1h-2zM337 664h2v1h-2zM339 663h2v1h-2zM341 662h2v1h-2zM343 661h2v1h-2zM345 660h2v1h-2zM347 659h1v1h-1zM348 659h2v1h-2zM350 658h4v1h-4zM354 657h4v1h-4zM358 656h1v1h-1zM359 656h11v1h-11zM370 656h3v1h-3zM373 655h6v1h-6zM379 654h2v1h-2zM381 654h2v1h-2zM383 655h3v1h-3zM386 656h2v1h-2zM388 657h3v1h-3zM391 658h1v1h-1zM392 658h1v1h-1zM393 659h1v1h-1zM394 660h1v1h-1zM395 661h1v1h-1zM396 662h1v1h-1zM397 663h2v1h-2zM399 664h1v1h-1zM400 665h1v1h-1zM401 666h1v1h-1zM402 667h1v1h-1zM403 668h1v1h-1zM404 669h2v1h-2zM406 670h2v1h-2zM408 671h2v1h-2zM410 672h2v1h-2zM412 673h2v1h-2zM414 674h2v1h-2zM416 675h2v1h-2zM418 676h2v1h-2zM420 677h3v1h-3zM423 678h2v1h-2zM425 679h1v1h-1zM426 679h2v1h-2zM428 680h2v1h-2zM430 681h2v1h-2zM432 682h2v1h-2zM434 683h2v1h-2zM436 684h1v1h-1zM437 684h2v1h-2zM439 685h3v1h-3zM442 686h2v1h-2zM444 687h3v1h-3zM447 688h1v1h-1zM448 688h1v1h-1zM449 689h2v1h-2zM451 690h1v1h-1zM452 691h2v1h-2zM454 692h2v1h-2zM456 693h1v1h-1zM457 694h2v1h-2zM459 695h1v1h-1zM460 696h1v1h-1zM461 697h1v1h-1zM462 698h1v1h-1zM463 699h1v1h-1zM464 700h2v1h-2zM466 701h1v1h-1zM467 702h1v1h-1zM468 703h1v1h-1zM469 704h1v1h-1zM470 705v1h1v-1zM471 706v1h1v-1zM472 707v1h1v-1zM473 708v1h1v-1zM474 709v1h1v-1zM475 710v1h1v-1zM476 711v2h1v-2zM477 713v1h1v-1zM478 714v1h1v-1zM479 715v1h1v-1zM480 716v1h1v-1zM481 717v1h1v-1zM482 718v2h1v-2zM483 720v2h1v-2zM484 722v1h1v-1zM485 723v2h1v-2zM486 725v1h1v-1zM487 726v2h1v-2zM488 728v2h1v-2zM489 730v1h1v-1zM490 731v2h1v-2zM491 733v2h1v-2zM492 735h2v1h-2zM494 736h2v1h-2zM496 737h2v1h-2zM498 738h2v1h-2zM500 739h2v1h-2zM502 740h1v1h-1zM503 740h2v1h-2zM505 741h2v1h-2zM507 742h2v1h-2zM509 743h2v1h-2zM511 744h2v1h-2zM513 745h1v1h-1zM514 745h2v1h-2zM516 744h4v1h-4zM520 743h4v1h-4zM524 742h1v1h-1zM525 742h3v1h-3zM528 741h6v1h-6zM534 740h2v1h-2zM536 740h3v1h-3zM539 739h6v1h-6zM545 738h2v1h-2zM547 738h3v1h-3zM550 739h6v1h-6zM556 740h2v1h-2zM558 740h12v1h-12zM570 740h1v1h-1zM571 739h2v1h-2zM573 738h2v1h-2zM575 737h2v1h-2zM577 736h2v1h-2zM579 735h2v1h-2zM581 734h11v1h-11zM592 734h3v1h-3zM595 733h6v1h-6zM601 732h2v1h-2zM603 732h2v1h-2zM605 731h2v1h-2zM607 730h2v1h-2zM609 729h2v1h-2zM611 728h2v1h-2zM613 727h1v1h-1zM614 727h1v1h-1zM615 726h2v1h-2zM617 725h2v1h-2zM619 724h2v1h-2zM621 723h2v1h-2zM623 722h2v1h-2zM625 721h2v1h-2zM627 720h4v1h-4zM631 719h4v1h-4zM635 718h1v1h-1zM636 718h3v1h-3zM639 717h6v1h-6zM645 716h2v1h-2zM647 716h6v1h-6zM653 715h5v1h-5zM658 715h2v1h-2zM660 714h4v1h-4zM664 713h4v1h-4zM668 712h1v1h-1zM669 712h2v1h-2zM671 711h3v1h-3zM674 710h2v1h-2zM676 709h3v1h-3zM679 708h1v1h-1zM680 708h2v1h-2zM682 707h4v1h-4zM686 706h4v1h-4zM690 705h1v1h-1zM691 705h3v1h-3zM694 706h6v1h-6zM700 707h3v1h-3zM703 707h6v1h-6zM709 708h5v1h-5zM714 708h1v1h-1zM715 709h2v1h-2zM717 710h1v1h-1zM718 711h2v1h-2zM720 712h2v1h-2zM722 713h1v1h-1zM723 714h2v1h-2zM725 715h2v1h-2zM727 716h2v1h-2zM729 717h2v1h-2zM731 718h2v1h-2zM733 719h2v1h-2zM735 720h1v1h-1zM736 720h1v1h-1zM737 721h2v1h-2zM739 722h2v1h-2zM741 723h2v1h-2zM743 724h2v1h-2zM745 725h2v1h-2zM747 726h6v1h-6zM753 725h5v1h-5zM758 725h3v1h-3zM761 726h6v1h-6zM767 727h2v1h-2zM769 727h3v1h-3zM772 728h6v1h-6zM778 729h2v1h-2zM780 729h2v1h-2zM782 728h4v1h-4zM786 727h4v1h-4zM790 726h1v1h-1zM791 726h11v1h-11zM802 726h3v1h-3zM805 725h6v1h-6zM811 724h2v1h-2zM813 724h1v1h-1zM814 723h2v1h-2zM816 722h2v1h-2zM818 721h2v1h-2zM820 720h2v1h-2zM822 719h2v1h-2zM824 718h1v1h-1zM825 717h2v1h-2zM827 716h1v1h-1zM828 715h1v1h-1zM829 714h2v1h-2zM831 713h1v1h-1zM832 712h1v1h-1zM833 711h2v1h-2zM835 710h1v1h-1zM836 709h2v1h-2zM838 708h2v1h-2zM840 707h1v1h-1zM841 706h2v1h-2zM843 705h2v1h-2zM845 704h2v1h-2zM847 703h1v1h-1zM848 702h2v1h-2zM850 701h1v1h-1zM851 700h2v1h-2zM853 699h2v1h-2zM855 698h1v1h-1zM856 697h2v1h-2zM858 696h1v1h-1zM859 695h2v1h-2zM861 694h1v1h-1zM862 693h2v1h-2zM864 692h2v1h-2zM866 691h1v1h-1zM867 690h2v1h-2zM869 689h1v1h-1zM870 688h2v1h-2zM872 687h1v1h-1zM873 686h2v1h-2zM875 685h2v1h-2zM877 684h1v1h-1zM878 683h2v1h-2zM880 682h2v1h-2zM882 681h4v1h-4zM886 680h4v1h-4zM890 679h1v1h-1zM891 679h6v1h-6zM897 678h5v1h-5zM902 678h2v1h-2zM904 677h3v1h-3zM907 676h2v1h-2zM909 675h3v1h-3zM912 674h1v1h-1zM913 674h2v1h-2zM915 673h4v1h-4zM919 672h4v1h-4zM923 671h1v1h-1zM924 671h2v1h-2zM926 670h3v1h-3zM929 669h2v1h-2zM931 668h3v1h-3zM934 667h1v1h-1zM935 667h2v1h-2zM937 666h4v1h-4zM941 665h4v1h-4zM945 664h1v1h-1zM946 664h2v1h-2zM948 663h4v1h-4zM952 662h4v1h-4zM956 661h1v1h-1zM957 661h1v1h-1zM958 660h2v1h-2zM960 659h1v1h-1zM961 658h1v1h-1zM962 657h2v1h-2zM964 656h1v1h-1zM965 655h1v1h-1zM966 654h2v1h-2zM968 653h1v1h-1zM969 652h1v1h-1zM970 651h1v1h-1zM971 650h1v1h-1zM972 649h1v1h-1zM973 648h1v1h-1zM974 647h1v1h-1zM975 646h1v1h-1zM976 645h1v1h-1zM977 644h1v1h-1zM978 643h1v1h-1zM979 642h1v1h-1zM980 641h2v1h-2zM982 640h1v1h-1zM983 639h2v1h-2zM985 638h1v1h-1zM986 637h2v1h-2zM988 636h1v1h-1zM989 635h2v1h-2zM991 634h2v1h-2zM993 633h2v1h-2zM995 632h2v1h-2zM997 631h2v1h-2zM999 630h2v1h-2zM1001 629h1v1h-1zM1002 629h2v1h-2zM1004 628h2v1h-2zM1006 627h2v1h-2zM1008 626h2v1h-2zM1010 625h2v1h-2zM1012 624h1v1h-1zM1013 624h2v1h-2zM1015 623h4v1h-4zM1019 622h4v1h-4zM1023 621h1v1h-1zM1024 621h2v1h-2zM1026 620h4v1h-4zM1030 619h4v1h-4zM1034 618h1v1h-1zM1035 618h2v1h-2zM1037 617h4v1h-4zM1041 616h4v1h-4zM1045 615h1v1h-1zM1046 615h3v1h-3zM1049 614h6v1h-6zM1055 613h2v1h-2zM1057 613h11v1h-11zM1068 613h6v1h-6zM1074 614h5v1h-5zM1079 614h6v1h-6zM1085 613h5v1h-5zM1090 613h2v1h-2zM1092 614h4v1h-4zM1096 615h4v1h-4zM1100 616h1v1h-1zM1101 616h2v1h-2zM1103 617h4v1h-4zM1107 618h4v1h-4zM1111 619h1v1h-1zM1112 619h6v1h-6zM1118 620h6v1h-6zM1124 620h2v1h-2zM1126 621h3v1h-3zM1129 622h2v1h-2zM1131 623h3v1h-3zM1134 624h1v1h-1zM1135 624h2v1h-2zM1137 625h2v1h-2zM1139 626h2v1h-2zM1141 627h2v1h-2zM1143 628h2v1h-2zM1145 629h1v1h-1zM1146 629h2v1h-2zM1148 630h3v1h-3zM1151 631h2v1h-2zM1153 632h3v1h-3zM1156 633h1v1h-1zM1157 633h6v1h-6zM1163 632h5v1h-5zM1168 632h11v1h-11zM1179 632h3v1h-3zM1182 631h6v1h-6zM1188 630h2v1h-2zM1190 630h3v1h-3zM1193 629h6v1h-6zM1199 628h2v1h-2zM1201 628h11v1h-11zM1212 628h2v1h-2zM1214 629h4v1h-4zM1218 630h4v1h-4zM1222 631h1v1h-1zM1223 631h3v1h-3zM1226 630h6v1h-6zM1232 629h2v1h-2zM1234 629h2v1h-2zM1236 628h4v1h-4zM1240 627h4v1h-4zM1244 626h1v1h-1zM1245 626h3v1h-3zM1248 625h6v1h-6zM1254 624h2v1h-2zM1256 624h3v1h-3zM1259 623h6v1h-6zM1265 622h3v1h-3zM1268 622h11v1h-11zM1279 622h2v1h-2zM1281 623h4v1h-4zM1285 624h4v1h-4zM1289 625h1v1h-1zM1290 625h1v1h-1zM1291 626h1v1h-1zM1292 627h2v1h-2zM1294 628h1v1h-1zM1295 629h1v1h-1zM1296 630h1v1h-1zM1297 631h1v1h-1zM1298 632h2v1h-2zM1300 633h1v1h-1zM1301 634h1v1h-1zM1302 635h1v1h-1zM1303 636h2v1h-2zM1305 637h1v1h-1zM1306 638h1v1h-1zM1307 639h1v1h-1zM1308 640h1v1h-1zM1309 641h2v1h-2zM1311 642h1v1h-1zM1312 643h2v1h-2zM1314 644h3v1h-3zM1317 645h2v1h-2zM1319 646h3v1h-3zM1322 647h1v1h-1zM1323 647h1v1h-1zM1324 648h2v1h-2zM1326 649h1v1h-1zM1327 650h1v1h-1zM1328 651h2v1h-2zM1330 652h1v1h-1zM1331 653h1v1h-1zM1332 654h2v1h-2zM1334 655h1v1h-1zM1335 656h2v1h-2zM1337 657h1v1h-1zM1338 658h2v1h-2zM1340 659h2v1h-2zM1342 660h1v1h-1zM1343 661h2v1h-2zM1345 662h1v1h-1zM1346 663h2v1h-2zM1348 664h2v1h-2zM1350 665h2v1h-2zM1352 666h2v1h-2zM1354 667h2v1h-2zM1356 668h1v1h-1zM1357 669h1v1h-1zM1358 670h2v1h-2zM1360 671h1v1h-1zM1361 672h1v1h-1zM1362 673h1v1h-1zM1363 674h1v1h-1zM1364 675h2v1h-2zM1366 676h1v1h-1zM1367 677h1v1h-1zM1368 678h1v1h-1zM1369 679h1v1h-1zM1370 680h1v1h-1zM1371 681h1v1h-1zM1372 682h1v1h-1zM1373 683h1v1h-1zM1374 684h1v1h-1zM1375 685h1v1h-1zM1376 686h1v1h-1zM1377 687h1v1h-1zM1378 688h2v1h-2zM1380 689h4v1h-4zM1384 690h4v1h-4zM1388 691h1v1h-1zM1389 691h6v1h-6zM1395 692h5v1h-5zM1400 692h2v1h-2zM1402 691h3v1h-3zM1405 690h3v1h-3zM1408 689h3v1h-3zM1411 688h1v1h-1zM1412 688h6v1h-6zM1418 687h5v1h-5zM1423 687h6v1h-6zM1429 688h5v1h-5zM1434 688h6v1h-6zM1440 689h5v1h-5zM1445 689h2v1h-2zM1447 688h3v1h-3zM1450 687h2v1h-2zM1452 686h3v1h-3zM1455 685h1v1h-1zM1456 685h3v1h-3zM1459 684h6v1h-6zM1465 683h2v1h-2zM1467 683h1v1h-1zM1468 682h2v1h-2zM1470 681h2v1h-2zM1472 680h2v1h-2zM1474 679h2v1h-2zM1476 678h2v1h-2zM1478 677h3v1h-3zM1481 676h6v1h-6zM1487 675h2v1h-2zM1489 675h1v1h-1zM1490 676h2v1h-2zM1492 677h2v1h-2zM1494 678h2v1h-2zM1496 679h2v1h-2zM1498 680h2v1h-2zM1500 681h2v1h-2zM1502 682h2v1h-2zM1504 683h2v1h-2zM1506 684h2v1h-2zM1508 685h2v1h-2zM1510 686h1v1h-1zM1511 686h2v1h-2zM1513 687h2v1h-2zM1515 688h2v1h-2zM1517 689h2v1h-2zM1519 690h2v1h-2zM1521 691h1v1h-1zM1522 691h1v1h-1zM1523 692h2v1h-2zM1525 693h1v1h-1zM1526 694h2v1h-2zM1528 695h2v1h-2zM1530 696h1v1h-1zM1531 697h2v1h-2zM1533 698h1v1h-1zM1534 699h2v1h-2zM1536 700h1v1h-1zM1537 701h2v1h-2zM1539 702h1v1h-1zM1540 703h2v1h-2zM1542 704h1v1h-1zM1543 705h2v1h-2zM1545 706h1v1h-1zM1546 707h2v1h-2zM1548 708h1v1h-1zM1549 709h2v1h-2zM1551 710h2v1h-2zM1553 711h1v1h-1zM1554 712h2v1h-2zM1556 713h6v1h-6zM1562 714h5v1h-5zM1567 714h6v1h-6zM1573 715h5v1h-5zM1578 715h2v1h-2zM1580 716h3v1h-3zM1583 717h2v1h-2zM1585 718h3v1h-3zM1588 719h1v1h-1zM1589 719h1v1h-1zM1590 720h2v1h-2zM1592 721h2v1h-2zM1594 722h2v1h-2zM1596 723h2v1h-2zM1598 724h2v1h-2zM1600 725h2v1h-2zM1602 726h2v1h-2zM1604 727h2v1h-2zM1606 728h2v1h-2zM1608 729h2v1h-2zM1610 730h1v1h-1zM1611 730h11v1h-11zM1622 730h2v1h-2zM1624 731h2v1h-2zM1626 732h2v1h-2zM1628 733h2v1h-2zM1630 734h2v1h-2zM1632 735h1v1h-1zM1633 735h6v1h-6zM1639 734h5v1h-5zM1644 734h2v1h-2zM1646 733h3v1h-3zM1649 732h2v1h-2zM1651 731h3v1h-3zM1654 730h1v1h-1zM1655 730h2v1h-2zM1657 729h3v1h-3zM1660 728h2v1h-2zM1662 727h3v1h-3zM1665 726h1v1h-1zM1666 726h2v1h-2zM1668 725h2v1h-2zM1670 724h2v1h-2zM1672 723h2v1h-2zM1674 722h2v1h-2zM1676 721h1v1h-1zM1677 721h1v1h-1zM1678 720h2v1h-2zM1680 719h2v1h-2zM1682 718h2v1h-2zM1684 717h2v1h-2zM1686 716h2v1h-2zM1688 715h1v1h-1zM1689 715h12v1h-12z" fill="#ff0000"/>
</g>
<g clip-path="url(#rp)" shape-rendering="crispEdges"><path d="M5 796h2v1h-2zM7 797h3v1h-3zM10 798h2v1h-2zM12 799h3v1h-3zM15 800h1v1h-1zM16 800h11v1h-11zM27 800h6v1h-6zM33 799h5v1h-5zM38 799v2h1v-2zM39 801v2h1v-2zM40 803v2h1v-2zM41 805v2h1v-2zM42 807v2h1v-2zM43 809v2h1v-2zM44 811v2h1v-2zM45 813v2h1v-2zM46 815v2h1v-2zM47 817v2h1v-2zM48 819v2h1v-2zM49 821v1h1v-1zM49 822h1v1h-1zM50 823h2v1h-2zM52 824h1v1h-1zM53 825h2v1h-2zM55 826h2v1h-2zM57 827h1v1h-1zM58 828h2v1h-2zM60 829v1h1v-1zM61 827v2h1v-2zM62 826v1h1v-1zM63 825v1h1v-1zM64 823v2h1v-2zM65 822v1h1v-1zM66 821v1h1v-1zM67 819v2h1v-2zM68 818v1h1v-1zM69 817v1h1v-1zM70 815v2h1v-2zM71 814h2v1h-2zM73 815h3v1h-3zM76 816h2v1h-2zM78 817h3v1h-3zM81 818h1v1h-1zM82 818h3v1h-3zM85 819h6v1h-6zM91 820h2v1h-2zM93 820h1v1h-1zM94 821h2v1h-2zM96 822h1v1h-1zM97 823h1v1h-1zM98 824h2v1h-2zM100 825h1v1h-1zM101 826h1v1h-1zM102 827h2v1h-2zM104 828h1v1h-1zM105 829h1v1h-1zM106 830h2v1h-2zM108 831h1v1h-1zM109 832h1v1h-1zM110 833h1v1h-1zM111 834h1v1h-1zM112 835h2v1h-2zM114 836h1v1h-1zM115 837h2v1h-2zM117 836h2v1h-2zM119 835h2v1h-2zM121 834h2v1h-2zM123 833h2v1h-2zM125 832h1v1h-1zM126 832v1h1v-1zM127 830v2h1v-2zM128 829v1h1v-1zM129 827v2h1v-2zM130 826v1h1v-1zM131 825v1h1v-1zM132 823v2h1v-2zM133 822v1h1v-1zM134 820v2h1v-2zM135 819v1h1v-1zM136 817v2h1v-2zM137 816v1h1v-1zM138 814v2h1v-2zM139 813v1h1v-1zM140 812v1h1v-1zM141 810v2h1v-2zM142 809v1h1v-1zM143 807v2h1v-2zM144 806v1h1v-1zM145 804v2h1v-2zM146 803v1h1v-1zM147 802v1h1v-1zM148 800v2h1v-2zM149 799h1v1h-1zM150 798h2v1h-2zM152 797h1v1h-1zM153 796h2v1h-2zM155 795h2v1h-2zM157 794h1v1h-1zM158 793h2v1h-2zM160 792h3v1h-3zM163 791h6v1h-6zM169 790h2v1h-2zM171 790h6v1h-6zM177 789h5v1h-5zM182 789h1v1h-1zM183 788h2v1h-2zM185 787h1v1h-1zM186 786h1v1h-1zM187 785h2v1h-2zM189 784h1v1h-1zM190 783h1v1h-1zM191 782h2v1h-2zM193 781h2v1h-2zM195 782h4v1h-4zM199 783h4v1h-4zM203 784h1v1h-1zM204 784h2v1h-2zM206 783h4v1h-4zM210 782h4v1h-4zM214 781h1v1h-1zM215 781h1v1h-1zM216 782h1v1h-1zM217 783h2v1h-2zM219 784h1v1h-1zM220 785h1v1h-1zM221 786h1v1h-1zM222 787h1v1h-1zM223 788h2v1h-2zM225 789h1v1h-1zM226 790h1v1h-1zM227 791h2v1h-2zM229 792h2v1h-2zM231 793h2v1h-2zM233 794h2v1h-2zM235 795h2v1h-2zM237 796h6v1h-6zM243 797h5v1h-5zM248 797h1v1h-1zM249 798h1v1h-1zM250 799h1v1h-1zM251 800h1v1h-1zM252 801h1v1h-1zM253 802h2v1h-2zM255 803h1v1h-1zM256 804h1v1h-1zM257 805h1v1h-1zM258 806h1v1h-1zM259 807v1h1v-1zM260 808v2h1v-2zM261 810v1h1v-1zM262 811v2h1v-2zM263 813v1h1v-1zM264 814v1h1v-1zM265 815v2h1v-2zM266 817v1h1v-1zM267 818v2h1v-2zM268 820v1h1v-1zM269 821v2h1v-2zM270 823h1v1h-1zM271 822h2v1h-2zM273 821h1v1h-1zM274 820h2v1h-2zM276 819h1v1h-1zM277 818h2v1h-2zM279 817h1v1h-1zM280 816h2v1h-2zM282 815h3v1h-3zM285 814h6v1h-6zM291 813h2v1h-2zM293 813h2v1h-2zM295 812h4v1h-4zM299 811h4v1h-4zM303 810h1v1h-1zM304 810h2v1h-2zM306 809h4v1h-4zM310 808h4v1h-4zM314 807h1v1h-1zM315 807h1v1h-1zM316 806h1v1h-1zM317 805h2v1h-2zM319 804h1v1h-1zM320 803h1v1h-1zM321 802h1v1h-1zM322 801h1v1h-1zM323 800h2v1h-2zM325 799h1v1h-1zM326 798h6v1h-6zM332 797h5v1h-5zM337 797h1v1h-1zM338 796h1v1h-1zM339 795h1v1h-1zM340 794h1v1h-1zM341 793h1v1h-1zM342 792h2v1h-2zM344 791h1v1h-1zM345 790h1v1h-1zM346 789h1v1h-1zM347 788h1v1h-1zM348 787h2v1h-2zM350 788h4v1h-4zM354 789h4v1h-4zM358 790h1v1h-1zM359 790h1v1h-1zM360 791h2v1h-2zM362 792h1v1h-1zM363 793h1v1h-1zM364 794h2v1h-2zM366 795h1v1h-1zM367 796h1v1h-1zM368 797h2v1h-2zM370 798h1v1h-1zM371 797h2v1h-2zM373 796h1v1h-1zM374 795h2v1h-2zM376 794h2v1h-2zM378 793h1v1h-1zM379 792h2v1h-2zM381 791v1h1v-1zM382 792v2h1v-2zM383 794v2h1v-2zM384 796v2h1v-2zM385 798v2h1v-2zM386 800v2h1v-2zM387 802v2h1v-2zM388 804v2h1v-2zM389 806v2h1v-2zM390 808v2h1v-2zM391 810v2h1v-2zM392 812v1h1v-1zM393 813v2h1v-2zM394 815v2h1v-2zM395 817v1h1v-1zM396 818v2h1v-2zM397 820v1h1v-1zM398 821v2h1v-2zM399 823v2h1v-2zM400 825v1h1v-1zM401 826v2h1v-2zM402 828v2h1v-2zM403 830h2v1h-2zM405 829h2v1h-2zM407 828h2v1h-2zM409 827h2v1h-2zM411 826h2v1h-2zM413 825h1v1h-1zM414 825h6v1h-6zM420 826h6v1h-6zM426 826h3v1h-3zM429 827h6v1h-6zM435 828h2v1h-2zM437 828h6v1h-6zM443 829h5v1h-5zM448 829h1v1h-1zM449 830h1v1h-1zM450 831h1v1h-1zM451 832h1v1h-1zM452 833h1v1h-1zM453 834h1v1h-1zM454 835h1v1h-1zM455 836h1v1h-1zM456 837h1v1h-1zM457 838h1v1h-1zM458 839h1v1h-1zM459 840h1v1h-1zM460 841h1v1h-1zM461 842h1v1h-1zM462 843h1v1h-1zM463 844h1v1h-1zM464 845h2v1h-2zM466 846h1v1h-1zM467 847h1v1h-1zM468 848h1v1h-1zM469 849h1v1h-1zM470 850h1v1h-1zM471 851h1v1h-1zM472 852h2v1h-2zM474 853h1v1h-1zM475 854h1v1h-1zM476 855h1v1h-1zM477 856h1v1h-1zM478 857h2v1h-2zM480 858h1v1h-1zM481 859h1v1h-1zM482 860h1v1h-1zM483 861h1v1h-1zM484 862h1v1h-1zM485 863h1v1h-1zM486 864h1v1h-1zM487 865h1v1h-1zM488 866h1v1h-1zM489 867h1v1h-1zM490 868h1v1h-1zM491 869h1v1h-1zM492 869v2h1v-2zM493 866v3h1v-3zM494 864v2h1v-2zM495 861v3h1v-3zM496 858v3h1v-3zM497 856v2h1v-2zM498 853v3h1v-3zM499 850v3h1v-3zM500 847v3h1v-3zM501 845v2h1v-2zM502 842v3h1v-3zM503 841v1h1v-1zM503 840h2v1h-2zM505 841h3v1h-3zM508 842h2v1h-2zM510 843h3v1h-3zM513 844h1v1h-1zM514 844v1h1v-1zM515 842v2h1v-2zM516 841v1h1v-1zM517 839v2h1v-2zM518 838v1h1v-1zM519 836v2h1v-2zM520 834v2h1v-2zM521 833v1h1v-1zM522 831v2h1v-2zM523 830v1h1v-1zM524 828v2h1v-2zM525 827h6v1h-6zM531 828h5v1h-5zM536 828h6v1h-6zM542 829h5v1h-5zM547 829h1v1h-1zM548 830h2v1h-2zM550 831h1v1h-1zM551 832h1v1h-1zM552 833h2v1h-2zM554 834h1v1h-1zM555 835h1v1h-1zM556 836h2v1h-2zM558 837h3v1h-3zM561 836h6v1h-6zM567 835h3v1h-3zM570 835v1h1v-1zM571 834v1h1v-1zM572 832v2h1v-2zM573 831v1h1v-1zM574 830v1h1v-1zM575 829v1h1v-1zM576 827v2h1v-2zM577 826v1h1v-1zM578 825v1h1v-1zM579 823v2h1v-2zM580 822v1h1v-1zM581 821h1v1h-1zM582 822h1v1h-1zM583 823h1v1h-1zM584 824h1v1h-1zM585 825h1v1h-1zM586 826h2v1h-2zM588 827h1v1h-1zM589 828h1v1h-1zM590 829h1v1h-1zM591 830h1v1h-1zM592 831h2v1h-2zM594 830h3v1h-3zM597 829h2v1h-2zM599 828h3v1h-3zM602 827h1v1h-1zM603 827h1v1h-1zM604 826h2v1h-2zM606 825h1v1h-1zM607 824h1v1h-1zM608 823h2v1h-2zM610 822h1v1h-1zM611 821h1v1h-1zM612 820h2v1h-2zM614 819h3v1h-3zM617 818h6v1h-6zM623 817h2v1h-2zM625 817h2v1h-2zM627 818h3v1h-3zM630 819h2v1h-2zM632 820h3v1h-3zM635 821h1v1h-1zM636 821h2v1h-2zM638 822h3v1h-3zM641 823h2v1h-2zM643 824h3v1h-3zM646 825h1v1h-1zM647 825h6v1h-6zM653 824h5v1h-5zM658 824h2v1h-2zM660 823h4v1h-4zM664 822h4v1h-4zM668 821h1v1h-1zM669 821h2v1h-2zM671 820h4v1h-4zM675 819h4v1h-4zM679 818h1v1h-1zM680 818h11v1h-11zM691 818v1h1v-1zM692 819v1h1v-1zM693 820v2h1v-2zM694 822v1h1v-1zM695 823v1h1v-1zM696 824v1h1v-1zM697 825v2h1v-2zM698 827v1h1v-1zM699 828v1h1v-1zM700 829v1h1v-1zM701 830v2h1v-2zM702 832v1h1v-1zM703 833h3v1h-3zM706 832h6v1h-6zM712 831h2v1h-2zM714 831v1h1v-1zM715 832v2h1v-2zM716 834v1h1v-1zM717 835v1h1v-1zM718 836v2h1v-2zM719 838v1h1v-1zM720 839v1h1v-1zM721 840v2h1v-2zM722 842v1h1v-1zM723 843v1h1v-1zM724 844v2h1v-2zM725 846h2v1h-2zM727 845h4v1h-4zM731 844h4v1h-4zM735 843h1v1h-1zM736 843h1v1h-1zM737 844h2v1h-2zM739 845h2v1h-2zM741 846h2v1h-2zM743 847h2v1h-2zM745 848h2v1h-2zM747 849v1h1v-1zM748 847v2h1v-2zM749 845v2h1v-2zM750 844v1h1v-1zM751 842v2h1v-2zM752 841v1h1v-1zM753 839v2h1v-2zM754 837v2h1v-2zM755 836v1h1v-1zM756 834v2h1v-2zM757 832v2h1v-2zM758 831h1v1h-1zM759 832h2v1h-2zM761 833h1v1h-1zM762 834h2v1h-2zM764 835h2v1h-2zM766 836h1v1h-1zM767 837h2v1h-2zM769 838h3v1h-3zM772 839h6v1h-6zM778 840h2v1h-2zM780 840v1h1v-1zM781 839v1h1v-1zM782 837v2h1v-2zM783 836v1h1v-1zM784 835v1h1v-1zM785 834v1h1v-1zM786 832v2h1v-2zM787 831v1h1v-1zM788 830v1h1v-1zM789 828v2h1v-2zM790 827v1h1v-1zM791 826h1v1h-1zM792 827h2v1h-2zM794 828h2v1h-2zM796 829h2v1h-2zM798 830h2v1h-2zM800 831h2v1h-2zM802 832h2v1h-2zM804 831h4v1h-4zM808 830h4v1h-4zM812 829h1v1h-1zM813 829v1h1v-1zM814 827v2h1v-2zM815 826v1h1v-1zM816 825v1h1v-1zM817 823v2h1v-2zM818 822v1h1v-1zM819 821v1h1v-1zM820 819v2h1v-2zM821 818v1h1v-1zM822 817v1h1v-1zM823 815v2h1v-2zM824 814h2v1h-2zM826 813h2v1h-2zM828 812h2v1h-2zM830 811h2v1h-2zM832 810h2v1h-2zM834 809h1v1h-1zM835 809h2v1h-2zM837 808h3v1h-3zM840 807h3v1h-3zM843 806h3v1h-3zM846 805h1v1h-1zM847 805h6v1h-6zM853 804h5v1h-5zM858 804h1v1h-1zM859 803h2v1h-2zM861 802h2v1h-2zM863 801h2v1h-2zM865 800h2v1h-2zM867 799h2v1h-2zM869 798h6v1h-6zM875 797h5v1h-5zM880 797h1v1h-1zM881 798h2v1h-2zM883 799h2v1h-2zM885 800h2v1h-2zM887 801h2v1h-2zM889 802h2v1h-2zM891 803h1v1h-1zM892 804h2v1h-2zM894 805h1v1h-1zM895 806h2v1h-2zM897 807h2v1h-2zM899 808h1v1h-1zM900 809h2v1h-2zM902 810h1v1h-1zM903 809h1v1h-1zM904 808h2v1h-2zM906 807h1v1h-1zM907 806h1v1h-1zM908 805h1v1h-1zM909 804h1v1h-1zM910 803h2v1h-2zM912 802h1v1h-1zM913 801h3v1h-3zM916 800h6v1h-6zM922 799h2v1h-2zM924 799h2v1h-2zM926 798h3v1h-3zM929 797h2v1h-2zM931 796h3v1h-3zM934 795h1v1h-1zM935 795h6v1h-6zM941 796h5v1h-5zM946 796h2v1h-2zM948 795h2v1h-2zM950 794h2v1h-2zM952 793h2v1h-2zM954 792h2v1h-2zM956 791h1v1h-1zM957 791v1h1v-1zM958 789v2h1v-2zM959 788v1h1v-1zM960 787v1h1v-1zM961 785v2h1v-2zM962 784v1h1v-1zM963 783v1h1v-1zM964 781v2h1v-2zM965 780v1h1v-1zM966 779v1h1v-1zM967 777v2h1v-2zM968 776v1h1v-1zM969 775v1h1v-1zM970 774v1h1v-1zM971 773v1h1v-1zM972 772v1h1v-1zM973 771v1h1v-1zM974 769v2h1v-2zM975 768v1h1v-1zM976 767v1h1v-1zM977 766v1h1v-1zM978 765v1h1v-1zM979 764h6v1h-6zM985 763h6v1h-6zM991 763h1v1h-1zM992 764h1v1h-1zM993 765h1v1h-1zM994 766h1v1h-1zM995 767h1v1h-1zM996 768h2v1h-2zM998 769h1v1h-1zM999 770h1v1h-1zM1000 771h1v1h-1zM1001 772h1v1h-1zM1002 773h1v1h-1zM1003 772h2v1h-2zM1005 771h2v1h-2zM1007 770h2v1h-2zM1009 769h2v1h-2zM1011 768h2v1h-2zM1013 767h3v1h-3zM1016 768h6v1h-6zM1022 769h2v1h-2zM1024 769h3v1h-3zM1027 768h6v1h-6zM1033 767h2v1h-2zM1035 767h2v1h-2zM1037 766h3v1h-3zM1040 765h2v1h-2zM1042 764h3v1h-3zM1045 763h1v1h-1zM1046 763h11v1h-11zM1057 763h1v1h-1zM1058 764h1v1h-1zM1059 765h1v1h-1zM1060 766h1v1h-1zM1061 767h1v1h-1zM1062 768h2v1h-2zM1064 769h1v1h-1zM1065 770h1v1h-1zM1066 771h1v1h-1zM1067 772h1v1h-1zM1068 773h3v1h-3zM1071 772h6v1h-6zM1077 771h2v1h-2zM1079 771h2v1h-2zM1081 770h2v1h-2zM1083 769h2v1h-2zM1085 768h2v1h-2zM1087 767h2v1h-2zM1089 766h1v1h-1zM1090 766v1h1v-1zM1091 767v2h1v-2zM1092 769v1h1v-1zM1093 770v2h1v-2zM1094 772v1h1v-1zM1095 773v1h1v-1zM1096 774v2h1v-2zM1097 776v1h1v-1zM1098 777v2h1v-2zM1099 779v1h1v-1zM1100 780v2h1v-2zM1101 782h6v1h-6zM1107 781h5v1h-5zM1112 781h2v1h-2zM1114 780h3v1h-3zM1117 779h3v1h-3zM1120 778h3v1h-3zM1123 777h1v1h-1zM1124 777v1h1v-1zM1125 778v1h1v-1zM1126 779v1h1v-1zM1127 780v1h1v-1zM1128 781v1h1v-1zM1129 782v1h1v-1zM1130 783v2h1v-2zM1131 785v1h1v-1zM1132 786v1h1v-1zM1133 787v1h1v-1zM1134 788v1h1v-1zM1135 789h1v1h-1zM1136 790h2v1h-2zM1138 791h2v1h-2zM1140 792h2v1h-2zM1142 793h2v1h-2zM1144 794h2v1h-2zM1146 795h11v1h-11zM1157 795v1h1v-1zM1158 793v2h1v-2zM1159 792v1h1v-1zM1160 790v2h1v-2zM1161 789v1h1v-1zM1162 787v2h1v-2zM1163 785v2h1v-2zM1164 784v1h1v-1zM1165 782v2h1v-2zM1166 781v1h1v-1zM1167 779v2h1v-2zM1168 778h6v1h-6zM1174 779h5v1h-5zM1179 779h1v1h-1zM1180 778h2v1h-2zM1182 777h1v1h-1zM1183 776h2v1h-2zM1185 775h2v1h-2zM1187 774h1v1h-1zM1188 773h2v1h-2zM1190 772h3v1h-3zM1193 771h6v1h-6zM1199 770h2v1h-2zM1201 770h2v1h-2zM1203 771h4v1h-4zM1207 772h4v1h-4zM1211 773h1v1h-1zM1212 773v1h1v-1zM1213 774v2h1v-2zM1214 776v1h1v-1zM1215 777v2h1v-2zM1216 779v1h1v-1zM1217 780v1h1v-1zM1218 781v2h1v-2zM1219 783v1h1v-1zM1220 784v2h1v-2zM1221 786v1h1v-1zM1222 787v2h1v-2zM1223 789v1h1v-1zM1224 788v1h1v-1zM1225 786v2h1v-2zM1226 785v1h1v-1zM1227 784v1h1v-1zM1228 783v1h1v-1zM1229 781v2h1v-2zM1230 780v1h1v-1zM1231 779v1h1v-1zM1232 777v2h1v-2zM1233 776v1h1v-1zM1234 775h1v1h-1zM1235 774h2v1h-2zM1237 773h1v1h-1zM1238 772h1v1h-1zM1239 771h2v1h-2zM1241 770h1v1h-1zM1242 769h1v1h-1zM1243 768h2v1h-2zM1245 767h2v1h-2zM1247 768h4v1h-4zM1251 769h4v1h-4zM1255 770h1v1h-1zM1256 770h2v1h-2zM1258 769h2v1h-2zM1260 768h2v1h-2zM1262 767h3v1h-3zM1265 766h2v1h-2zM1267 765h1v1h-1zM1268 765v1h1v-1zM1269 766v1h1v-1zM1270 767v1h1v-1zM1271 768v1h1v-1zM1272 769v1h1v-1zM1273 770v1h1v-1zM1274 771v2h1v-2zM1275 773v1h1v-1zM1276 774v1h1v-1zM1277 775v1h1v-1zM1278 776v1h1v-1zM1279 777h1v1h-1zM1280 778h2v1h-2zM1282 779h1v1h-1zM1283 780h2v1h-2zM1285 781h2v1h-2zM1287 782h1v1h-1zM1288 783h2v1h-2zM1290 784v2h1v-2zM1291 786v3h1v-3zM1292 789v2h1v-2zM1293 791v3h1v-3zM1294 794v3h1v-3zM1295 797v2h1v-2zM1296 799v3h1v-3zM1297 802v3h1v-3zM1298 805v3h1v-3zM1299 808v2h1v-2zM1300 810v3h1v-3zM1301 813v1h1v-1zM1301 814h3v1h-3zM1304 815h6v1h-6zM1310 816h2v1h-2zM1312 816h1v1h-1zM1313 815h1v1h-1zM1314 814h2v1h-2zM1316 813h1v1h-1zM1317 812h1v1h-1zM1318 811h1v1h-1zM1319 810h1v1h-1zM1320 809h2v1h-2zM1322 808h1v1h-1zM1323 807v1h1v-1zM1324 808v1h1v-1zM1325 809v1h1v-1zM1326 810v1h1v-1zM1327 811v1h1v-1zM1328 812v1h1v-1zM1329 813v2h1v-2zM1330 815v1h1v-1zM1331 816v1h1v-1zM1332 817v1h1v-1zM1333 818v1h1v-1zM1334 819h2v1h-2zM1336 820h2v1h-2zM1338 821h2v1h-2zM1340 822h2v1h-2zM1342 823h2v1h-2zM1344 824h1v1h-1zM1345 824h6v1h-6zM1351 823h5v1h-5zM1356 823v1h1v-1zM1357 824v1h1v-1zM1358 825v2h1v-2zM1359 827v1h1v-1zM1360 828v1h1v-1zM1361 829v1h1v-1zM1362 830v2h1v-2zM1363 832v1h1v-1zM1364 833v1h1v-1zM1365 834v2h1v-2zM1366 836v1h1v-1zM1367 837h1v1h-1zM1368 838h2v1h-2zM1370 839h1v1h-1zM1371 840h1v1h-1zM1372 841h2v1h-2zM1374 842h1v1h-1zM1375 843h1v1h-1zM1376 844h2v1h-2zM1378 844v2h1v-2zM1379 842v2h1v-2zM1380 840v2h1v-2zM1381 838v2h1v-2zM1382 836v2h1v-2zM1383 834v2h1v-2zM1384 832v2h1v-2zM1385 830v2h1v-2zM1386 828v2h1v-2zM1387 826v2h1v-2zM1388 824v2h1v-2zM1389 823v1h1v-1zM1389 822h6v1h-6zM1395 821h5v1h-5zM1400 821v1h1v-1zM1401 820v1h1v-1zM1402 818v2h1v-2zM1403 817v1h1v-1zM1404 816v1h1v-1zM1405 814v2h1v-2zM1406 813v1h1v-1zM1407 812v1h1v-1zM1408 810v2h1v-2zM1409 809v1h1v-1zM1410 808v1h1v-1zM1411 806v2h1v-2zM1412 805h1v1h-1zM1413 806h2v1h-2zM1415 807h1v1h-1zM1416 808h2v1h-2zM1418 809h2v1h-2zM1420 810h1v1h-1zM1421 811h2v1h-2zM1423 812h1v1h-1zM1424 813h2v1h-2zM1426 814h2v1h-2zM1428 815h2v1h-2zM1430 816h2v1h-2zM1432 817h2v1h-2zM1434 818h11v1h-11zM1445 818v1h1v-1zM1446 816v2h1v-2zM1447 815v1h1v-1zM1448 814v1h1v-1zM1449 812v2h1v-2zM1450 811v1h1v-1zM1451 810v1h1v-1zM1452 808v2h1v-2zM1453 807v1h1v-1zM1454 806v1h1v-1zM1455 804v2h1v-2zM1456 803h2v1h-2zM1458 804h2v1h-2zM1460 805h2v1h-2zM1462 806h2v1h-2zM1464 807h2v1h-2zM1466 808h1v1h-1zM1467 808h1v1h-1zM1468 807h1v1h-1zM1469 806h1v1h-1zM1470 805h1v1h-1zM1471 804h1v1h-1zM1472 803h1v1h-1zM1473 802h1v1h-1zM1474 801h1v1h-1zM1475 800h1v1h-1zM1476 799h1v1h-1zM1477 798h1v1h-1zM1478 797h1v1h-1zM1479 798h2v1h-2zM1481 799h2v1h-2zM1483 800h2v1h-2zM1485 801h2v1h-2zM1487 802h2v1h-2zM1489 803v1h1v-1zM1490 804v2h1v-2zM1491 806v2h1v-2zM1492 808v2h1v-2zM1493 810v2h1v-2zM1494 812v2h1v-2zM1495 814v2h1v-2zM1496 816v2h1v-2zM1497 818v2h1v-2zM1498 820v2h1v-2zM1499 822v2h1v-2zM1500 824v1h1v-1zM1500 825h6v1h-6zM1506 824h5v1h-5zM1511 824h2v1h-2zM1513 825h3v1h-3zM1516 826h2v1h-2zM1518 827h3v1h-3zM1521 828h1v1h-1zM1522 828h1v1h-1zM1523 829h1v1h-1zM1524 830h2v1h-2zM1526 831h1v1h-1zM1527 832h1v1h-1zM1528 833h1v1h-1zM1529 834h1v1h-1zM1530 835h2v1h-2zM1532 836h1v1h-1zM1533 837h2v1h-2zM1535 838h2v1h-2zM1537 839h2v1h-2zM1539 840h3v1h-3zM1542 841h2v1h-2zM1544 842h1v1h-1zM1545 842h6v1h-6zM1551 843h5v1h-5zM1556 843h1v1h-1zM1557 842h1v1h-1zM1558 841h1v1h-1zM1559 840h1v1h-1zM1560 839h1v1h-1zM1561 838h1v1h-1zM1562 837h1v1h-1zM1563 836h1v1h-1zM1564 835h1v1h-1zM1565 834h1v1h-1zM1566 833h1v1h-1zM1567 832h6v1h-6zM1573 833h5v1h-5zM1578 833h1v1h-1zM1579 834h2v1h-2zM1581 835h1v1h-1zM1582 836h2v1h-2zM1584 837h2v1h-2zM1586 838h1v1h-1zM1587 839h2v1h-2zM1589 840h1v1h-1zM1590 841h2v1h-2zM1592 842h1v1h-1zM1593 843h1v1h-1zM1594 844h2v1h-2zM1596 845h1v1h-1zM1597 846h1v1h-1zM1598 847h2v1h-2zM1600 848h6v1h-6zM1606 849h5v1h-5zM1611 849h1v1h-1zM1612 848h1v1h-1zM1613 847h1v1h-1zM1614 846h1v1h-1zM1615 845h1v1h-1zM1616 844h1v1h-1zM1617 843h1v1h-1zM1618 842h1v1h-1zM1619 841h1v1h-1zM1620 840h1v1h-1zM1621 839h1v1h-1zM1622 838h1v1h-1zM1623 839h1v1h-1zM1624 840h1v1h-1zM1625 841h1v1h-1zM1626 842h1v1h-1zM1627 843h2v1h-2zM1629 844h1v1h-1zM1630 845h1v1h-1zM1631 846h1v1h-1zM1632 847h1v1h-1zM1633 848v1h1v-1zM1634 847v1h1v-1zM1635 846v1h1v-1zM1636 845v1h1v-1zM1637 844v1h1v-1zM1638 843v1h1v-1zM1639 841v2h1v-2zM1640 840v1h1v-1zM1641 839v1h1v-1zM1642 838v1h1v-1zM1643 837v1h1v-1zM1644 836v1h1v-1zM1645 835v1h1v-1zM1646 834v1h1v-1zM1647 833v1h1v-1zM1648 832v1h1v-1zM1649 831v1h1v-1zM1650 829v2h1v-2zM1651 828v1h1v-1zM1652 827v1h1v-1zM1653 826v1h1v-1zM1654 825v1h1v-1zM1655 824h6v1h-6zM1661 825h5v1h-5zM1666 825h1v1h-1zM1667 824h2v1h-2zM1669 823h2v1h-2zM1671 822h2v1h-2zM1673 821h2v1h-2zM1675 820h2v1h-2zM1677 819h2v1h-2zM1679 818h4v1h-4zM1683 817h4v1h-4zM1687 816h2v1h-2zM1689 816h1v1h-1zM1690 817h1v1h-1zM1691 818h1v1h-1zM1692 819h1v1h-1zM1693 820h1v1h-1zM1694 821h1v1h-1zM1695 822h1v1h-1zM1696 823h1v1h-1zM1697 824h1v1h-1zM1698 825h1v1h-1zM1699 826h1v1h-1zM1700 827h1v1h-1z" fill="#ff0000"/></g>
<g shape-rendering="crispEdges" fill="#000">
<rect x="0" y="0" width="1823" height="1"/>
<rect x="0" y="0" width="1" height="877"/>
<rect x="1822" y="0" width="1" height="877"/>
<rect x="0" y="582" width="1823" height="1"/>
<rect x="0" y="600" width="1823" height="1"/>
<rect x="0" y="752" width="1823" height="1"/>
<rect x="1823" y="101" width="4" height="1"/>
<rect x="1823" y="209" width="4" height="1"/>
<rect x="1823" y="317" width="4" height="1"/>
<rect x="1823" y="426" width="4" height="1"/>
<rect x="1823" y="534" width="4" height="1"/>
<rect x="1823" y="622" width="4" height="1"/>
<rect x="1823" y="644" width="4" height="1"/>
<rect x="1823" y="667" width="4" height="1"/>
<rect x="1823" y="689" width="4" height="1"/>
<rect x="1823" y="712" width="4" height="1"/>
<rect x="1823" y="734" width="4" height="1"/>
<rect x="1823" y="761" width="4" height="1"/>
<rect x="1823" y="850" width="4" height="1"/>
<rect x="71" y="583" width="1" height="9"/>
<rect x="326" y="583" width="1" height="9"/>
<rect x="558" y="583" width="1" height="9"/>
<rect x="802" y="583" width="1" height="9"/>
<rect x="1046" y="583" width="1" height="9"/>
<rect x="1279" y="583" width="1" height="9"/>
<rect x="1500" y="583" width="1" height="9"/>
</g>
<g shape-rendering="crispEdges">
<rect x="1831" y="246" width="60" height="17" fill="#00ff00"/>
<rect x="1831" y="321" width="60" height="17" fill="#ff0000"/>
<rect x="1831" y="445" width="60" height="17" fill="#ffd700"/>
</g>
<polygon points="1823,504.5 1831,496 1891,496 1891,513 1831,513" fill="#000"/>
<polygon points="1823,827.5 1831,819 1891,819 1891,836 1831,836" fill="#ff0000"/>
<text x="4.80" y="15" font-family="'Liberation Sans', Arial, sans-serif" font-size="15" fill="#000" textLength="48.30" lengthAdjust="spacingAndGlyphs">^GDAXI</text>
<text x="57.20" y="15" font-family="'Liberation Sans', Arial, sans-serif" font-size="15" fill="#000" textLength="5.00" lengthAdjust="spacingAndGlyphs">-</text>
<text x="65.41" y="15" font-family="'Liberation Sans', Arial, sans-serif" font-size="15" fill="#000" textLength="31.78" lengthAdjust="spacingAndGlyphs">Daily</text>
<text x="101.47" y="15" font-family="'Liberation Sans', Arial, sans-serif" font-size="15" fill="#000" textLength="74.34" lengthAdjust="spacingAndGlyphs">28-01-2016</text>
<text x="180.17" y="15" font-family="'Liberation Sans', Arial, sans-serif" font-size="15" fill="#000" textLength="35.86" lengthAdjust="spacingAndGlyphs">Open</text>
<text x="219.98" y="15" font-family="'Liberation Sans', Arial, sans-serif" font-size="15" fill="#000" textLength="55.81" lengthAdjust="spacingAndGlyphs">9826.28,</text>
<text x="279.21" y="15" font-family="'Liberation Sans', Arial, sans-serif" font-size="15" fill="#000" textLength="13.46" lengthAdjust="spacingAndGlyphs">Hi</text>
<text x="296.78" y="15" font-family="'Liberation Sans', Arial, sans-serif" font-size="15" fill="#000" textLength="56.43" lengthAdjust="spacingAndGlyphs">9905.08,</text>
<text x="356.56" y="15" font-family="'Liberation Sans', Arial, sans-serif" font-size="15" fill="#000" textLength="16.52" lengthAdjust="spacingAndGlyphs">Lo</text>
<text x="376.78" y="15" font-family="'Liberation Sans', Arial, sans-serif" font-size="15" fill="#000" textLength="48.27" lengthAdjust="spacingAndGlyphs">9594.8,</text>
<text x="429.16" y="15" font-family="'Liberation Sans', Arial, sans-serif" font-size="15" fill="#000" textLength="37.74" lengthAdjust="spacingAndGlyphs">Close</text>
<text x="470.58" y="15" font-family="'Liberation Sans', Arial, sans-serif" font-size="15" fill="#000" textLength="52.23" lengthAdjust="spacingAndGlyphs">9639.59</text>
<text x="526.75" y="15" font-family="'Liberation Sans', Arial, sans-serif" font-size="15" fill="#000" textLength="48.88" lengthAdjust="spacingAndGlyphs">(-2.4%)</text>
<text x="578.40" y="15" font-family="'Liberation Sans', Arial, sans-serif" font-size="15" fill="#ffd700" textLength="88.32" lengthAdjust="spacingAndGlyphs">MA(Close,20)</text>
<text x="670.88" y="15" font-family="'Liberation Sans', Arial, sans-serif" font-size="15" fill="#000" textLength="72.20" lengthAdjust="spacingAndGlyphs">= 9,874.34,</text>
<text x="747.30" y="15" font-family="'Liberation Sans', Arial, sans-serif" font-size="15" fill="#ff0000" textLength="115.05" lengthAdjust="spacingAndGlyphs">Mid MA(Close,50)</text>
<text x="866.07" y="15" font-family="'Liberation Sans', Arial, sans-serif" font-size="15" fill="#000" textLength="81.73" lengthAdjust="spacingAndGlyphs">= 10,444.92,</text>
<text x="950.49" y="15" font-family="'Liberation Sans', Arial, sans-serif" font-size="15" fill="#00ff00" textLength="132.81" lengthAdjust="spacingAndGlyphs">Long MA(Close,200)</text>
<text x="1086.69" y="15" font-family="'Liberation Sans', Arial, sans-serif" font-size="15" fill="#000" textLength="75.34" lengthAdjust="spacingAndGlyphs">= 10,794.11</text>
<text x="5.10" y="615" font-family="'Liberation Sans', Arial, sans-serif" font-size="15" fill="#000" textLength="57.38" lengthAdjust="spacingAndGlyphs">^GDAXI -</text>
<text x="65.39" y="615" font-family="'Liberation Sans', Arial, sans-serif" font-size="15" fill="#ff0000" textLength="88.94" lengthAdjust="spacingAndGlyphs">MACD(12,26)</text>
<text x="157.87" y="615" font-family="'Liberation Sans', Arial, sans-serif" font-size="15" fill="#000" textLength="66.12" lengthAdjust="spacingAndGlyphs">= -211.44,</text>
<text x="227.57" y="615" font-family="'Liberation Sans', Arial, sans-serif" font-size="15" fill="#0000ff" textLength="98.64" lengthAdjust="spacingAndGlyphs">Signal(12,26,9)</text>
<text x="329.77" y="615" font-family="'Liberation Sans', Arial, sans-serif" font-size="15" fill="#000" textLength="61.77" lengthAdjust="spacingAndGlyphs">= -238.98</text>
<rect x="1" y="753" width="170" height="17" fill="#fff"/>
<text x="4.50" y="767" font-family="'Liberation Sans', Arial, sans-serif" font-size="15" fill="#000" textLength="57.99" lengthAdjust="spacingAndGlyphs">^GDAXI -</text>
<text x="65.46" y="767" font-family="'Liberation Sans', Arial, sans-serif" font-size="15" fill="#ff0000" textLength="51.17" lengthAdjust="spacingAndGlyphs">RSI(15)</text>
<text x="119.79" y="767" font-family="'Liberation Sans', Arial, sans-serif" font-size="15" fill="#000" textLength="47.58" lengthAdjust="spacingAndGlyphs">= 40.21</text>
<text x="4.69" y="889" font-family="'Liberation Sans', Arial, sans-serif" font-size="11" fill="#000" textLength="510.35" lengthAdjust="spacingAndGlyphs">Created with AmiBroker - advanced charting and technical analysis software. http://www.amibroker.com</text>
<text x="1782.74" y="190" font-family="'Liberation Sans', Arial, sans-serif" font-size="15" fill="#0000ff" textLength="39.30" lengthAdjust="spacingAndGlyphs">11150</text>
<text x="1782.74" y="253" font-family="'Liberation Sans', Arial, sans-serif" font-size="15" fill="#0000ff" textLength="39.30" lengthAdjust="spacingAndGlyphs">10860</text>
<text x="1782.74" y="335" font-family="'Liberation Sans', Arial, sans-serif" font-size="15" fill="#0000ff" textLength="39.30" lengthAdjust="spacingAndGlyphs">10480</text>
<text x="1782.74" y="389" font-family="'Liberation Sans', Arial, sans-serif" font-size="15" fill="#0000ff" textLength="39.30" lengthAdjust="spacingAndGlyphs">10230</text>
<text x="1782.74" y="407" font-family="'Liberation Sans', Arial, sans-serif" font-size="15" fill="#0000ff" textLength="39.30" lengthAdjust="spacingAndGlyphs">10150</text>
<text x="1790.75" y="469" font-family="'Liberation Sans', Arial, sans-serif" font-size="15" fill="#0000ff" textLength="31.44" lengthAdjust="spacingAndGlyphs">9860</text>
<text x="1790.75" y="482" font-family="'Liberation Sans', Arial, sans-serif" font-size="15" fill="#0000ff" textLength="31.44" lengthAdjust="spacingAndGlyphs">9800</text>
<text x="1790.75" y="582" font-family="'Liberation Sans', Arial, sans-serif" font-size="15" fill="#0000ff" textLength="31.44" lengthAdjust="spacingAndGlyphs">9340</text>
<text x="1845.18" y="106" font-family="'Liberation Sans', Arial, sans-serif" font-size="15" fill="#000" textLength="43.69" lengthAdjust="spacingAndGlyphs">11,500</text>
<text x="1845.18" y="214" font-family="'Liberation Sans', Arial, sans-serif" font-size="15" fill="#000" textLength="43.69" lengthAdjust="spacingAndGlyphs">11,000</text>
<text x="1845.18" y="322" font-family="'Liberation Sans', Arial, sans-serif" font-size="15" fill="#000" textLength="43.69" lengthAdjust="spacingAndGlyphs">10,500</text>
<text x="1845.18" y="431" font-family="'Liberation Sans', Arial, sans-serif" font-size="15" fill="#000" textLength="43.69" lengthAdjust="spacingAndGlyphs">10,000</text>
<text x="1853.28" y="539" font-family="'Liberation Sans', Arial, sans-serif" font-size="15" fill="#000" textLength="35.74" lengthAdjust="spacingAndGlyphs">9,500</text>
<text x="1865.08" y="627" font-family="'Liberation Sans', Arial, sans-serif" font-size="15" fill="#000" textLength="24.03" lengthAdjust="spacingAndGlyphs">200</text>
<text x="1865.08" y="649" font-family="'Liberation Sans', Arial, sans-serif" font-size="15" fill="#000" textLength="24.03" lengthAdjust="spacingAndGlyphs">100</text>
<text x="1881.16" y="672" font-family="'Liberation Sans', Arial, sans-serif" font-size="15" fill="#000" textLength="8.01" lengthAdjust="spacingAndGlyphs">0</text>
<text x="1860.28" y="694" font-family="'Liberation Sans', Arial, sans-serif" font-size="15" fill="#000" textLength="28.83" lengthAdjust="spacingAndGlyphs">-100</text>
<text x="1860.28" y="717" font-family="'Liberation Sans', Arial, sans-serif" font-size="15" fill="#000" textLength="28.83" lengthAdjust="spacingAndGlyphs">-200</text>
<text x="1860.28" y="739" font-family="'Liberation Sans', Arial, sans-serif" font-size="15" fill="#000" textLength="28.83" lengthAdjust="spacingAndGlyphs">-300</text>
<text x="1853.10" y="766" font-family="'Liberation Sans', Arial, sans-serif" font-size="15" fill="#000" textLength="28.04" lengthAdjust="spacingAndGlyphs">70.0</text>
<text x="1853.10" y="855" font-family="'Liberation Sans', Arial, sans-serif" font-size="15" fill="#000" textLength="28.04" lengthAdjust="spacingAndGlyphs">30.0</text>
<text x="1835.85" y="260" font-family="'Liberation Sans', Arial, sans-serif" font-size="15" fill="#000" textLength="55.59" lengthAdjust="spacingAndGlyphs">10,794.1</text>
<text x="1836.95" y="335" font-family="'Liberation Sans', Arial, sans-serif" font-size="15" fill="#000" textLength="55.59" lengthAdjust="spacingAndGlyphs">10,444.9</text>
<text x="1835.19" y="459" font-family="'Liberation Sans', Arial, sans-serif" font-size="15" fill="#000" textLength="55.59" lengthAdjust="spacingAndGlyphs">9,874.34</text>
<text x="1835.19" y="510" font-family="'Liberation Sans', Arial, sans-serif" font-size="15" fill="#fff" textLength="55.59" lengthAdjust="spacingAndGlyphs">9,639.59</text>
<text x="1836.56" y="833" font-family="'Liberation Sans', Arial, sans-serif" font-size="15" fill="#000" textLength="51.63" lengthAdjust="spacingAndGlyphs">40.2094</text>
<text x="9.06" y="596" font-family="'Liberation Sans', Arial, sans-serif" font-size="15" fill="#000" textLength="23.46" lengthAdjust="spacingAndGlyphs">Jun</text>
<text x="75.06" y="596" font-family="'Liberation Sans', Arial, sans-serif" font-size="15" fill="#000" textLength="18.61" lengthAdjust="spacingAndGlyphs">Jul</text>
<text x="329.50" y="596" font-family="'Liberation Sans', Arial, sans-serif" font-size="15" fill="#000" textLength="45.05" lengthAdjust="spacingAndGlyphs">August</text>
<text x="561.77" y="596" font-family="'Liberation Sans', Arial, sans-serif" font-size="15" fill="#000" textLength="71.86" lengthAdjust="spacingAndGlyphs">September</text>
<text x="806.07" y="596" font-family="'Liberation Sans', Arial, sans-serif" font-size="15" fill="#000" textLength="51.76" lengthAdjust="spacingAndGlyphs">October</text>
<text x="1049.69" y="596" font-family="'Liberation Sans', Arial, sans-serif" font-size="15" fill="#000" textLength="67.13" lengthAdjust="spacingAndGlyphs">November</text>
<text x="1283.09" y="596" font-family="'Liberation Sans', Arial, sans-serif" font-size="15" fill="#000" textLength="67.13" lengthAdjust="spacingAndGlyphs">December</text>
<text x="1503.56" y="596" font-family="'Liberation Sans', Arial, sans-serif" font-size="15" fill="#000" textLength="32.75" lengthAdjust="spacingAndGlyphs">2016</text>
</svg></body></html>
